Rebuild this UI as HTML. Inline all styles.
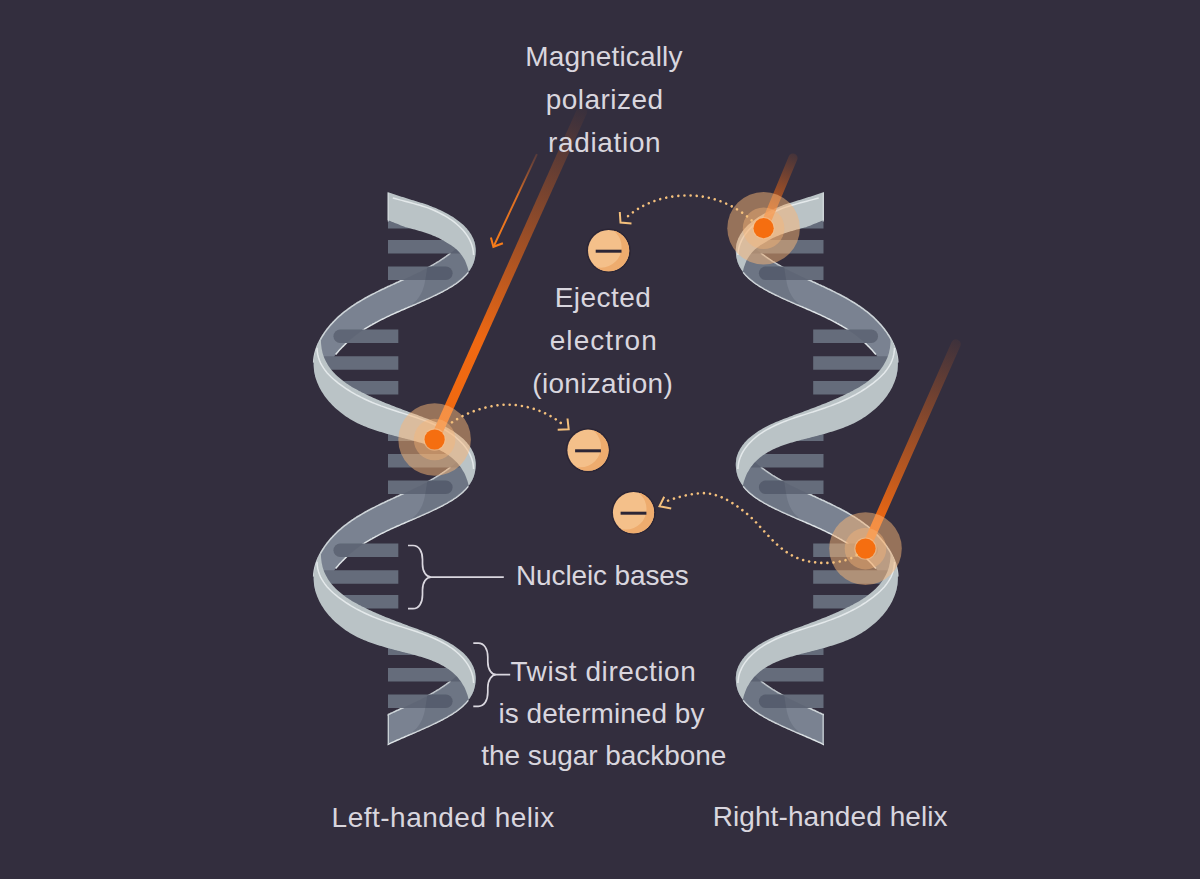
<!DOCTYPE html>
<html><head><meta charset="utf-8"><style>html,body{margin:0;padding:0;background:#332e3e;width:1200px;height:879px;overflow:hidden}svg{display:block}</style></head>
<body><svg width="1200" height="879" viewBox="0 0 1200 879">
<rect width="1200" height="879" fill="#332e3e"/>
<g><defs>
<clipPath id="cutL"><rect x="387.6" y="0" width="200" height="879"/></clipPath>
<clipPath id="kcL"><path d="M472.9,665.8 L473.5,667.2 L474.0,668.7 L474.5,670.1 L474.9,671.6 L475.2,673.1 L475.4,674.7 L475.6,676.2 L475.7,677.7 L475.7,679.3 L475.6,680.8 L475.5,682.3 L475.3,683.8 L475.1,685.3 L474.8,686.8 L474.4,688.3 L474.0,689.7 L473.5,691.2 L472.9,692.6 L472.3,693.9 L471.6,695.2 L470.8,696.5 L470.1,697.8 L469.2,699.0 L468.3,700.3 L467.4,701.4 L466.4,702.6 L465.3,703.7 L464.2,704.8 L463.1,705.9 L462.0,706.9 L460.8,707.9 L459.5,708.9 L458.3,709.9 L457.0,710.9 L455.7,711.8 L454.3,712.7 L453.0,713.6 L451.6,714.5 L450.1,715.4 L448.7,716.2 L447.3,717.1 L445.8,717.9 L444.3,718.7 L442.9,719.5 L441.4,720.2 L439.9,721.0 L438.4,721.7 L436.9,722.5 L435.4,723.2 L433.9,723.9 L432.4,724.7 L430.9,725.4 L429.4,726.1 L427.9,726.8 L426.4,727.4 L424.9,728.1 L423.4,728.8 L421.9,729.4 L420.4,730.1 L418.9,730.8 L417.4,731.4 L415.9,732.1 L414.4,732.7 L413.0,733.3 L411.5,734.0 L410.0,734.6 L408.5,735.3 L407.1,735.9 L405.6,736.5 L404.1,737.2 L402.7,737.8 L401.2,738.4 L399.8,739.1 L398.3,739.7 L396.9,740.3 L395.4,741.0 L394.0,741.6 L392.6,742.3 L391.1,742.9 L389.7,743.6 L388.3,744.3 L386.9,744.9 L385.5,745.6 L384.1,746.3 L382.7,747.0 L381.3,747.7 L379.9,748.4 L378.5,749.1 L377.2,749.8 L375.8,750.5 L374.5,751.3 L373.1,752.0 L371.8,752.8 L370.4,753.5 L369.1,754.3 L367.8,755.1 L366.5,755.9 L365.2,756.7 L363.9,757.6 L362.6,758.4 L361.3,759.3 L360.0,760.1 L358.8,761.0 L357.5,761.9 L356.3,762.8 L355.0,763.8 L353.8,764.7 L352.6,765.7 L351.4,766.7 L350.2,767.7 L349.0,768.7 L347.8,769.8 L346.7,770.8 L345.5,771.9 L344.4,773.0 L343.3,774.1 L342.1,775.3 L341.0,776.4 L339.9,777.6 L338.8,778.8 L337.8,780.1 L336.7,781.3 L335.6,782.6 L334.6,783.9 L333.6,785.2 L332.6,786.6 L331.6,788.0 L330.6,789.4 L329.6,790.8 L328.6,792.3 L327.7,793.8 L326.8,795.3 L325.8,796.9 L315.5,805.4 L315.1,804.0 L314.8,802.5 L314.5,801.0 L314.2,799.6 L314.0,798.1 L313.9,796.6 L313.8,795.1 L313.7,793.6 L313.7,792.1 L313.7,790.6 L313.8,789.1 L313.9,787.6 L314.1,786.1 L314.3,784.6 L314.6,783.2 L314.9,781.7 L315.3,780.2 L315.7,778.8 L316.1,777.3 L316.6,775.9 L317.1,774.5 L317.7,773.1 L318.3,771.6 L319.0,770.3 L319.7,768.9 L320.4,767.5 L321.1,766.2 L321.9,764.8 L322.7,763.5 L323.6,762.2 L324.4,760.9 L325.3,759.6 L326.2,758.4 L327.2,757.1 L328.1,755.9 L329.1,754.7 L330.1,753.5 L331.1,752.4 L332.2,751.2 L333.2,750.1 L334.3,749.0 L335.4,747.9 L336.5,746.8 L337.6,745.7 L338.7,744.7 L339.9,743.7 L341.1,742.7 L342.2,741.7 L343.4,740.7 L344.6,739.7 L345.8,738.8 L347.1,737.8 L348.3,736.9 L349.6,736.0 L350.8,735.1 L352.1,734.2 L353.4,733.4 L354.7,732.5 L356.0,731.7 L357.3,730.8 L358.7,730.0 L360.0,729.2 L361.4,728.4 L362.7,727.6 L364.1,726.8 L365.4,726.0 L366.8,725.3 L368.2,724.5 L369.6,723.8 L371.0,723.0 L372.4,722.3 L373.8,721.6 L375.2,720.9 L376.6,720.1 L378.1,719.4 L379.5,718.7 L380.9,718.0 L382.4,717.3 L383.8,716.7 L385.2,716.0 L386.7,715.3 L388.1,714.6 L389.6,714.0 L391.0,713.3 L392.5,712.6 L393.9,711.9 L395.4,711.3 L396.8,710.6 L398.3,710.0 L399.7,709.3 L401.2,708.6 L402.6,708.0 L404.1,707.3 L405.5,706.7 L407.0,706.0 L408.4,705.3 L409.8,704.7 L411.3,704.0 L412.7,703.3 L414.1,702.6 L415.5,702.0 L416.9,701.3 L418.4,700.6 L419.8,699.9 L421.2,699.2 L422.5,698.5 L423.9,697.8 L425.3,697.1 L426.7,696.4 L428.0,695.6 L429.4,694.9 L430.7,694.2 L432.0,693.4 L433.4,692.7 L434.7,691.9 L436.0,691.1 L437.3,690.3 L438.6,689.6 L439.8,688.8 L441.1,687.9 L442.3,687.1 L443.6,686.3 L444.8,685.4 L446.0,684.6 L447.2,683.7 L448.4,682.8 L449.6,681.9 L450.7,681.0 L451.8,680.1 L453.0,679.2 L454.1,678.2 L455.2,677.3 Z" transform="translate(0,-428)"/><path d="M472.9,665.8 L473.5,667.2 L474.0,668.7 L474.5,670.1 L474.9,671.6 L475.2,673.1 L475.4,674.7 L475.6,676.2 L475.7,677.7 L475.7,679.3 L475.6,680.8 L475.5,682.3 L475.3,683.8 L475.1,685.3 L474.8,686.8 L474.4,688.3 L474.0,689.7 L473.5,691.2 L472.9,692.6 L472.3,693.9 L471.6,695.2 L470.8,696.5 L470.1,697.8 L469.2,699.0 L468.3,700.3 L467.4,701.4 L466.4,702.6 L465.3,703.7 L464.2,704.8 L463.1,705.9 L462.0,706.9 L460.8,707.9 L459.5,708.9 L458.3,709.9 L457.0,710.9 L455.7,711.8 L454.3,712.7 L453.0,713.6 L451.6,714.5 L450.1,715.4 L448.7,716.2 L447.3,717.1 L445.8,717.9 L444.3,718.7 L442.9,719.5 L441.4,720.2 L439.9,721.0 L438.4,721.7 L436.9,722.5 L435.4,723.2 L433.9,723.9 L432.4,724.7 L430.9,725.4 L429.4,726.1 L427.9,726.8 L426.4,727.4 L424.9,728.1 L423.4,728.8 L421.9,729.4 L420.4,730.1 L418.9,730.8 L417.4,731.4 L415.9,732.1 L414.4,732.7 L413.0,733.3 L411.5,734.0 L410.0,734.6 L408.5,735.3 L407.1,735.9 L405.6,736.5 L404.1,737.2 L402.7,737.8 L401.2,738.4 L399.8,739.1 L398.3,739.7 L396.9,740.3 L395.4,741.0 L394.0,741.6 L392.6,742.3 L391.1,742.9 L389.7,743.6 L388.3,744.3 L386.9,744.9 L385.5,745.6 L384.1,746.3 L382.7,747.0 L381.3,747.7 L379.9,748.4 L378.5,749.1 L377.2,749.8 L375.8,750.5 L374.5,751.3 L373.1,752.0 L371.8,752.8 L370.4,753.5 L369.1,754.3 L367.8,755.1 L366.5,755.9 L365.2,756.7 L363.9,757.6 L362.6,758.4 L361.3,759.3 L360.0,760.1 L358.8,761.0 L357.5,761.9 L356.3,762.8 L355.0,763.8 L353.8,764.7 L352.6,765.7 L351.4,766.7 L350.2,767.7 L349.0,768.7 L347.8,769.8 L346.7,770.8 L345.5,771.9 L344.4,773.0 L343.3,774.1 L342.1,775.3 L341.0,776.4 L339.9,777.6 L338.8,778.8 L337.8,780.1 L336.7,781.3 L335.6,782.6 L334.6,783.9 L333.6,785.2 L332.6,786.6 L331.6,788.0 L330.6,789.4 L329.6,790.8 L328.6,792.3 L327.7,793.8 L326.8,795.3 L325.8,796.9 L315.5,805.4 L315.1,804.0 L314.8,802.5 L314.5,801.0 L314.2,799.6 L314.0,798.1 L313.9,796.6 L313.8,795.1 L313.7,793.6 L313.7,792.1 L313.7,790.6 L313.8,789.1 L313.9,787.6 L314.1,786.1 L314.3,784.6 L314.6,783.2 L314.9,781.7 L315.3,780.2 L315.7,778.8 L316.1,777.3 L316.6,775.9 L317.1,774.5 L317.7,773.1 L318.3,771.6 L319.0,770.3 L319.7,768.9 L320.4,767.5 L321.1,766.2 L321.9,764.8 L322.7,763.5 L323.6,762.2 L324.4,760.9 L325.3,759.6 L326.2,758.4 L327.2,757.1 L328.1,755.9 L329.1,754.7 L330.1,753.5 L331.1,752.4 L332.2,751.2 L333.2,750.1 L334.3,749.0 L335.4,747.9 L336.5,746.8 L337.6,745.7 L338.7,744.7 L339.9,743.7 L341.1,742.7 L342.2,741.7 L343.4,740.7 L344.6,739.7 L345.8,738.8 L347.1,737.8 L348.3,736.9 L349.6,736.0 L350.8,735.1 L352.1,734.2 L353.4,733.4 L354.7,732.5 L356.0,731.7 L357.3,730.8 L358.7,730.0 L360.0,729.2 L361.4,728.4 L362.7,727.6 L364.1,726.8 L365.4,726.0 L366.8,725.3 L368.2,724.5 L369.6,723.8 L371.0,723.0 L372.4,722.3 L373.8,721.6 L375.2,720.9 L376.6,720.1 L378.1,719.4 L379.5,718.7 L380.9,718.0 L382.4,717.3 L383.8,716.7 L385.2,716.0 L386.7,715.3 L388.1,714.6 L389.6,714.0 L391.0,713.3 L392.5,712.6 L393.9,711.9 L395.4,711.3 L396.8,710.6 L398.3,710.0 L399.7,709.3 L401.2,708.6 L402.6,708.0 L404.1,707.3 L405.5,706.7 L407.0,706.0 L408.4,705.3 L409.8,704.7 L411.3,704.0 L412.7,703.3 L414.1,702.6 L415.5,702.0 L416.9,701.3 L418.4,700.6 L419.8,699.9 L421.2,699.2 L422.5,698.5 L423.9,697.8 L425.3,697.1 L426.7,696.4 L428.0,695.6 L429.4,694.9 L430.7,694.2 L432.0,693.4 L433.4,692.7 L434.7,691.9 L436.0,691.1 L437.3,690.3 L438.6,689.6 L439.8,688.8 L441.1,687.9 L442.3,687.1 L443.6,686.3 L444.8,685.4 L446.0,684.6 L447.2,683.7 L448.4,682.8 L449.6,681.9 L450.7,681.0 L451.8,680.1 L453.0,679.2 L454.1,678.2 L455.2,677.3 Z" transform="translate(0,-214)"/><path d="M472.9,665.8 L473.5,667.2 L474.0,668.7 L474.5,670.1 L474.9,671.6 L475.2,673.1 L475.4,674.7 L475.6,676.2 L475.7,677.7 L475.7,679.3 L475.6,680.8 L475.5,682.3 L475.3,683.8 L475.1,685.3 L474.8,686.8 L474.4,688.3 L474.0,689.7 L473.5,691.2 L472.9,692.6 L472.3,693.9 L471.6,695.2 L470.8,696.5 L470.1,697.8 L469.2,699.0 L468.3,700.3 L467.4,701.4 L466.4,702.6 L465.3,703.7 L464.2,704.8 L463.1,705.9 L462.0,706.9 L460.8,707.9 L459.5,708.9 L458.3,709.9 L457.0,710.9 L455.7,711.8 L454.3,712.7 L453.0,713.6 L451.6,714.5 L450.1,715.4 L448.7,716.2 L447.3,717.1 L445.8,717.9 L444.3,718.7 L442.9,719.5 L441.4,720.2 L439.9,721.0 L438.4,721.7 L436.9,722.5 L435.4,723.2 L433.9,723.9 L432.4,724.7 L430.9,725.4 L429.4,726.1 L427.9,726.8 L426.4,727.4 L424.9,728.1 L423.4,728.8 L421.9,729.4 L420.4,730.1 L418.9,730.8 L417.4,731.4 L415.9,732.1 L414.4,732.7 L413.0,733.3 L411.5,734.0 L410.0,734.6 L408.5,735.3 L407.1,735.9 L405.6,736.5 L404.1,737.2 L402.7,737.8 L401.2,738.4 L399.8,739.1 L398.3,739.7 L396.9,740.3 L395.4,741.0 L394.0,741.6 L392.6,742.3 L391.1,742.9 L389.7,743.6 L388.3,744.3 L386.9,744.9 L385.5,745.6 L384.1,746.3 L382.7,747.0 L381.3,747.7 L379.9,748.4 L378.5,749.1 L377.2,749.8 L375.8,750.5 L374.5,751.3 L373.1,752.0 L371.8,752.8 L370.4,753.5 L369.1,754.3 L367.8,755.1 L366.5,755.9 L365.2,756.7 L363.9,757.6 L362.6,758.4 L361.3,759.3 L360.0,760.1 L358.8,761.0 L357.5,761.9 L356.3,762.8 L355.0,763.8 L353.8,764.7 L352.6,765.7 L351.4,766.7 L350.2,767.7 L349.0,768.7 L347.8,769.8 L346.7,770.8 L345.5,771.9 L344.4,773.0 L343.3,774.1 L342.1,775.3 L341.0,776.4 L339.9,777.6 L338.8,778.8 L337.8,780.1 L336.7,781.3 L335.6,782.6 L334.6,783.9 L333.6,785.2 L332.6,786.6 L331.6,788.0 L330.6,789.4 L329.6,790.8 L328.6,792.3 L327.7,793.8 L326.8,795.3 L325.8,796.9 L315.5,805.4 L315.1,804.0 L314.8,802.5 L314.5,801.0 L314.2,799.6 L314.0,798.1 L313.9,796.6 L313.8,795.1 L313.7,793.6 L313.7,792.1 L313.7,790.6 L313.8,789.1 L313.9,787.6 L314.1,786.1 L314.3,784.6 L314.6,783.2 L314.9,781.7 L315.3,780.2 L315.7,778.8 L316.1,777.3 L316.6,775.9 L317.1,774.5 L317.7,773.1 L318.3,771.6 L319.0,770.3 L319.7,768.9 L320.4,767.5 L321.1,766.2 L321.9,764.8 L322.7,763.5 L323.6,762.2 L324.4,760.9 L325.3,759.6 L326.2,758.4 L327.2,757.1 L328.1,755.9 L329.1,754.7 L330.1,753.5 L331.1,752.4 L332.2,751.2 L333.2,750.1 L334.3,749.0 L335.4,747.9 L336.5,746.8 L337.6,745.7 L338.7,744.7 L339.9,743.7 L341.1,742.7 L342.2,741.7 L343.4,740.7 L344.6,739.7 L345.8,738.8 L347.1,737.8 L348.3,736.9 L349.6,736.0 L350.8,735.1 L352.1,734.2 L353.4,733.4 L354.7,732.5 L356.0,731.7 L357.3,730.8 L358.7,730.0 L360.0,729.2 L361.4,728.4 L362.7,727.6 L364.1,726.8 L365.4,726.0 L366.8,725.3 L368.2,724.5 L369.6,723.8 L371.0,723.0 L372.4,722.3 L373.8,721.6 L375.2,720.9 L376.6,720.1 L378.1,719.4 L379.5,718.7 L380.9,718.0 L382.4,717.3 L383.8,716.7 L385.2,716.0 L386.7,715.3 L388.1,714.6 L389.6,714.0 L391.0,713.3 L392.5,712.6 L393.9,711.9 L395.4,711.3 L396.8,710.6 L398.3,710.0 L399.7,709.3 L401.2,708.6 L402.6,708.0 L404.1,707.3 L405.5,706.7 L407.0,706.0 L408.4,705.3 L409.8,704.7 L411.3,704.0 L412.7,703.3 L414.1,702.6 L415.5,702.0 L416.9,701.3 L418.4,700.6 L419.8,699.9 L421.2,699.2 L422.5,698.5 L423.9,697.8 L425.3,697.1 L426.7,696.4 L428.0,695.6 L429.4,694.9 L430.7,694.2 L432.0,693.4 L433.4,692.7 L434.7,691.9 L436.0,691.1 L437.3,690.3 L438.6,689.6 L439.8,688.8 L441.1,687.9 L442.3,687.1 L443.6,686.3 L444.8,685.4 L446.0,684.6 L447.2,683.7 L448.4,682.8 L449.6,681.9 L450.7,681.0 L451.8,680.1 L453.0,679.2 L454.1,678.2 L455.2,677.3 Z"/></clipPath>
<path id="KL" d="M472.9,665.8 L473.5,667.2 L474.0,668.7 L474.5,670.1 L474.9,671.6 L475.2,673.1 L475.4,674.7 L475.6,676.2 L475.7,677.7 L475.7,679.3 L475.6,680.8 L475.5,682.3 L475.3,683.8 L475.1,685.3 L474.8,686.8 L474.4,688.3 L474.0,689.7 L473.5,691.2 L472.9,692.6 L472.3,693.9 L471.6,695.2 L470.8,696.5 L470.1,697.8 L469.2,699.0 L468.3,700.3 L467.4,701.4 L466.4,702.6 L465.3,703.7 L464.2,704.8 L463.1,705.9 L462.0,706.9 L460.8,707.9 L459.5,708.9 L458.3,709.9 L457.0,710.9 L455.7,711.8 L454.3,712.7 L453.0,713.6 L451.6,714.5 L450.1,715.4 L448.7,716.2 L447.3,717.1 L445.8,717.9 L444.3,718.7 L442.9,719.5 L441.4,720.2 L439.9,721.0 L438.4,721.7 L436.9,722.5 L435.4,723.2 L433.9,723.9 L432.4,724.7 L430.9,725.4 L429.4,726.1 L427.9,726.8 L426.4,727.4 L424.9,728.1 L423.4,728.8 L421.9,729.4 L420.4,730.1 L418.9,730.8 L417.4,731.4 L415.9,732.1 L414.4,732.7 L413.0,733.3 L411.5,734.0 L410.0,734.6 L408.5,735.3 L407.1,735.9 L405.6,736.5 L404.1,737.2 L402.7,737.8 L401.2,738.4 L399.8,739.1 L398.3,739.7 L396.9,740.3 L395.4,741.0 L394.0,741.6 L392.6,742.3 L391.1,742.9 L389.7,743.6 L388.3,744.3 L386.9,744.9 L385.5,745.6 L384.1,746.3 L382.7,747.0 L381.3,747.7 L379.9,748.4 L378.5,749.1 L377.2,749.8 L375.8,750.5 L374.5,751.3 L373.1,752.0 L371.8,752.8 L370.4,753.5 L369.1,754.3 L367.8,755.1 L366.5,755.9 L365.2,756.7 L363.9,757.6 L362.6,758.4 L361.3,759.3 L360.0,760.1 L358.8,761.0 L357.5,761.9 L356.3,762.8 L355.0,763.8 L353.8,764.7 L352.6,765.7 L351.4,766.7 L350.2,767.7 L349.0,768.7 L347.8,769.8 L346.7,770.8 L345.5,771.9 L344.4,773.0 L343.3,774.1 L342.1,775.3 L341.0,776.4 L339.9,777.6 L338.8,778.8 L337.8,780.1 L336.7,781.3 L335.6,782.6 L334.6,783.9 L333.6,785.2 L332.6,786.6 L331.6,788.0 L330.6,789.4 L329.6,790.8 L328.6,792.3 L327.7,793.8 L326.8,795.3 L325.8,796.9 L315.5,805.4 L315.1,804.0 L314.8,802.5 L314.5,801.0 L314.2,799.6 L314.0,798.1 L313.9,796.6 L313.8,795.1 L313.7,793.6 L313.7,792.1 L313.7,790.6 L313.8,789.1 L313.9,787.6 L314.1,786.1 L314.3,784.6 L314.6,783.2 L314.9,781.7 L315.3,780.2 L315.7,778.8 L316.1,777.3 L316.6,775.9 L317.1,774.5 L317.7,773.1 L318.3,771.6 L319.0,770.3 L319.7,768.9 L320.4,767.5 L321.1,766.2 L321.9,764.8 L322.7,763.5 L323.6,762.2 L324.4,760.9 L325.3,759.6 L326.2,758.4 L327.2,757.1 L328.1,755.9 L329.1,754.7 L330.1,753.5 L331.1,752.4 L332.2,751.2 L333.2,750.1 L334.3,749.0 L335.4,747.9 L336.5,746.8 L337.6,745.7 L338.7,744.7 L339.9,743.7 L341.1,742.7 L342.2,741.7 L343.4,740.7 L344.6,739.7 L345.8,738.8 L347.1,737.8 L348.3,736.9 L349.6,736.0 L350.8,735.1 L352.1,734.2 L353.4,733.4 L354.7,732.5 L356.0,731.7 L357.3,730.8 L358.7,730.0 L360.0,729.2 L361.4,728.4 L362.7,727.6 L364.1,726.8 L365.4,726.0 L366.8,725.3 L368.2,724.5 L369.6,723.8 L371.0,723.0 L372.4,722.3 L373.8,721.6 L375.2,720.9 L376.6,720.1 L378.1,719.4 L379.5,718.7 L380.9,718.0 L382.4,717.3 L383.8,716.7 L385.2,716.0 L386.7,715.3 L388.1,714.6 L389.6,714.0 L391.0,713.3 L392.5,712.6 L393.9,711.9 L395.4,711.3 L396.8,710.6 L398.3,710.0 L399.7,709.3 L401.2,708.6 L402.6,708.0 L404.1,707.3 L405.5,706.7 L407.0,706.0 L408.4,705.3 L409.8,704.7 L411.3,704.0 L412.7,703.3 L414.1,702.6 L415.5,702.0 L416.9,701.3 L418.4,700.6 L419.8,699.9 L421.2,699.2 L422.5,698.5 L423.9,697.8 L425.3,697.1 L426.7,696.4 L428.0,695.6 L429.4,694.9 L430.7,694.2 L432.0,693.4 L433.4,692.7 L434.7,691.9 L436.0,691.1 L437.3,690.3 L438.6,689.6 L439.8,688.8 L441.1,687.9 L442.3,687.1 L443.6,686.3 L444.8,685.4 L446.0,684.6 L447.2,683.7 L448.4,682.8 L449.6,681.9 L450.7,681.0 L451.8,680.1 L453.0,679.2 L454.1,678.2 L455.2,677.3 Z"/>
<path id="FL" d="M321.1,550.9 L321.0,552.7 L321.0,554.5 L321.0,556.3 L321.1,558.0 L321.3,559.7 L321.5,561.4 L321.7,563.0 L322.1,564.6 L322.4,566.2 L322.8,567.7 L323.3,569.2 L323.8,570.7 L324.4,572.2 L325.0,573.6 L325.7,575.0 L326.4,576.3 L327.1,577.6 L327.9,578.9 L328.7,580.2 L329.6,581.5 L330.5,582.7 L331.5,583.9 L332.4,585.1 L333.5,586.2 L334.5,587.3 L335.6,588.4 L336.7,589.5 L337.8,590.6 L339.0,591.6 L340.2,592.6 L341.4,593.6 L342.7,594.6 L343.9,595.5 L345.2,596.5 L346.5,597.4 L347.9,598.3 L349.2,599.2 L350.6,600.0 L351.9,600.9 L353.3,601.7 L354.7,602.5 L356.2,603.3 L357.6,604.1 L359.0,604.9 L360.5,605.6 L361.9,606.4 L363.4,607.1 L364.9,607.8 L366.3,608.5 L367.8,609.2 L369.3,609.9 L370.7,610.6 L372.2,611.3 L373.7,611.9 L375.1,612.6 L376.6,613.2 L378.0,613.8 L379.5,614.5 L381.0,615.1 L382.4,615.7 L383.9,616.3 L385.3,616.9 L386.8,617.5 L388.3,618.1 L389.7,618.6 L391.2,619.2 L392.6,619.8 L394.1,620.3 L395.6,620.9 L397.0,621.5 L398.5,622.0 L400.0,622.6 L401.4,623.1 L402.9,623.7 L404.4,624.2 L405.8,624.8 L407.3,625.3 L408.8,625.9 L410.3,626.4 L411.7,626.9 L413.2,627.5 L414.7,628.0 L416.2,628.6 L417.7,629.1 L419.2,629.7 L420.7,630.2 L422.2,630.8 L423.7,631.4 L425.2,631.9 L426.7,632.5 L428.2,633.1 L429.7,633.7 L431.2,634.3 L432.7,634.9 L434.2,635.5 L435.7,636.1 L437.2,636.8 L438.7,637.4 L440.1,638.1 L441.6,638.8 L443.1,639.5 L444.5,640.2 L446.0,641.0 L447.4,641.8 L448.8,642.6 L450.3,643.4 L451.7,644.2 L453.1,645.1 L454.4,646.0 L455.8,646.9 L457.1,647.9 L458.5,648.9 L459.8,649.9 L461.0,651.0 L462.3,652.0 L463.5,653.1 L464.7,654.3 L465.8,655.4 L466.9,656.6 L467.9,657.9 L468.9,659.1 L469.8,660.4 L470.7,661.7 L471.5,663.0 L472.2,664.4 L472.9,665.8 L473.5,667.2 L474.0,668.7 L474.5,670.1 L474.9,671.6 L475.2,673.1 L475.4,674.7 L475.6,676.2 L475.7,677.7 L475.7,679.3 L475.6,680.8 L475.5,682.3 L475.3,683.8 L475.1,685.3 L474.8,686.8 L474.4,688.3 L474.0,689.7 L473.5,691.2 L472.9,692.6 L472.3,693.9 L471.6,695.2 L470.8,696.5 L470.1,697.8 L469.2,699.0 L468.3,700.3 L468.7,700.0 L468.3,698.2 L467.9,696.5 L467.4,694.8 L466.8,693.2 L466.2,691.6 L465.6,690.1 L465.0,688.6 L464.3,687.1 L463.5,685.7 L462.7,684.4 L461.9,683.1 L461.1,681.8 L460.2,680.6 L459.3,679.4 L458.4,678.2 L457.4,677.1 L456.4,676.0 L455.3,674.9 L454.3,673.9 L453.2,672.9 L452.1,672.0 L450.9,671.1 L449.8,670.2 L448.6,669.3 L447.3,668.5 L446.1,667.7 L444.8,666.9 L443.5,666.1 L442.2,665.4 L440.9,664.7 L439.6,664.0 L438.2,663.3 L436.8,662.7 L435.4,662.1 L434.0,661.5 L432.6,660.9 L431.2,660.3 L429.7,659.8 L428.3,659.3 L426.8,658.8 L425.3,658.3 L423.8,657.8 L422.3,657.3 L420.8,656.8 L419.3,656.4 L417.8,655.9 L416.2,655.5 L414.7,655.1 L413.2,654.7 L411.6,654.3 L410.1,653.8 L408.6,653.4 L407.0,653.0 L405.5,652.7 L404.0,652.3 L402.4,651.9 L400.9,651.5 L399.4,651.1 L397.8,650.7 L396.3,650.3 L394.8,649.9 L393.3,649.5 L391.7,649.1 L390.2,648.7 L388.7,648.3 L387.2,647.9 L385.7,647.5 L384.2,647.0 L382.7,646.6 L381.2,646.1 L379.7,645.7 L378.2,645.2 L376.7,644.8 L375.2,644.3 L373.8,643.8 L372.3,643.3 L370.8,642.8 L369.4,642.2 L367.9,641.7 L366.5,641.1 L365.1,640.5 L363.6,639.9 L362.2,639.3 L360.8,638.7 L359.4,638.0 L358.0,637.4 L356.6,636.7 L355.2,636.0 L353.9,635.3 L352.5,634.5 L351.2,633.7 L349.8,632.9 L348.5,632.1 L347.2,631.3 L345.9,630.4 L344.6,629.5 L343.3,628.6 L342.0,627.6 L340.7,626.6 L339.5,625.6 L338.3,624.6 L337.0,623.6 L335.8,622.5 L334.7,621.4 L333.5,620.3 L332.4,619.2 L331.3,618.0 L330.2,616.8 L329.1,615.7 L328.1,614.4 L327.1,613.2 L326.1,612.0 L325.1,610.7 L324.2,609.4 L323.3,608.1 L322.5,606.8 L321.6,605.5 L320.8,604.1 L320.1,602.8 L319.4,601.4 L318.7,600.0 L318.1,598.6 L317.5,597.2 L316.9,595.8 L316.4,594.3 L315.9,592.9 L315.5,591.4 L315.1,590.0 L314.8,588.5 L314.5,587.0 L314.2,585.6 L314.0,584.1 L313.9,582.6 L313.8,581.1 L313.7,579.6 L313.7,578.1 L313.7,576.6 L313.8,575.1 L313.9,573.6 L314.1,572.1 L314.3,570.6 L314.6,569.2 L314.9,567.7 L315.3,566.2 L315.7,564.8 L316.1,563.3 L316.6,561.9 L317.1,560.5 L317.7,559.1 L318.3,557.6 L319.0,556.3 L319.7,554.9 L320.4,553.5 L321.1,552.2 Z"/>
</defs>
<use href="#KL" y="-428" fill="#7a8291"/>
<use href="#KL" y="-214" fill="#7a8291"/>
<g clip-path="url(#cutL)"><use href="#KL" fill="#7a8291"/></g>
<path d="M450.7,467.0 L449.6,467.9 L448.4,468.8 L447.2,469.7 L446.0,470.6 L444.8,471.4 L443.6,472.3 L442.3,473.1 L441.1,473.9 L439.8,474.8 L438.6,475.6 L437.3,476.3 L436.0,477.1 L434.7,477.9 L433.4,478.7 L432.0,479.4 L430.7,480.2 L429.4,480.9 L428.0,481.6 L426.7,482.4 L425.3,483.1 L423.9,483.8 L422.5,484.5 L421.2,485.2 L419.8,485.9 L418.4,486.6 L416.9,487.3 L415.5,488.0 L414.1,488.6 L412.7,489.3 L411.3,490.0 L409.8,490.7 L408.4,491.3 L407.0,492.0 L405.5,492.7 L404.1,493.3 L402.6,494.0 L401.2,494.6 L399.7,495.3 L398.3,496.0 L396.8,496.6 L395.4,497.3 L393.9,497.9 L392.5,498.6 L391.0,499.3 L389.6,500.0 L388.1,500.6 L386.7,501.3 L385.2,502.0 L383.8,502.7 L382.4,503.3 L380.9,504.0 L379.5,504.7 L378.1,505.4 L376.6,506.1 L375.2,506.9 L373.8,507.6 L372.4,508.3 L371.0,509.0 L369.6,509.8 L368.2,510.5 L366.8,511.3 L365.4,512.0 L364.1,512.8 L362.7,513.6 L361.4,514.4 L360.0,515.2 L358.7,516.0 L357.3,516.8 L356.0,517.7 L354.7,518.5 L353.4,519.4 L352.1,520.2 L350.8,521.1 L349.6,522.0 L348.3,522.9 L347.1,523.8 L345.8,524.8 L344.6,525.7 L343.4,526.7 L342.2,527.7 L341.1,528.7 L339.9,529.7 L338.7,530.7 L337.6,531.7 L336.5,532.8 L335.4,533.9 L334.3,535.0 L333.2,536.1 L332.2,537.2 L331.1,538.4 L330.1,539.5 L329.1,540.7 L328.1,541.9 L327.2,543.1 L326.2,544.4 L325.3,545.6 L324.4,546.9 L323.6,548.2 L322.7,549.5 L321.9,550.8 L321.1,552.2 L320.4,553.5 L319.7,554.9 L319.0,556.3 L318.3,557.6 L317.7,559.1 L317.1,560.5 L316.6,561.9 L316.1,563.3 L315.7,564.8 L315.3,566.2 L314.9,567.7 L314.6,569.2 L314.3,570.6 L314.1,572.1 L313.9,573.6 L313.8,575.1 L313.7,576.6" transform="translate(0,-214)" fill="none" stroke="#cdd4d8" stroke-width="1.6"/>
<path d="M450.7,467.0 L449.6,467.9 L448.4,468.8 L447.2,469.7 L446.0,470.6 L444.8,471.4 L443.6,472.3 L442.3,473.1 L441.1,473.9 L439.8,474.8 L438.6,475.6 L437.3,476.3 L436.0,477.1 L434.7,477.9 L433.4,478.7 L432.0,479.4 L430.7,480.2 L429.4,480.9 L428.0,481.6 L426.7,482.4 L425.3,483.1 L423.9,483.8 L422.5,484.5 L421.2,485.2 L419.8,485.9 L418.4,486.6 L416.9,487.3 L415.5,488.0 L414.1,488.6 L412.7,489.3 L411.3,490.0 L409.8,490.7 L408.4,491.3 L407.0,492.0 L405.5,492.7 L404.1,493.3 L402.6,494.0 L401.2,494.6 L399.7,495.3 L398.3,496.0 L396.8,496.6 L395.4,497.3 L393.9,497.9 L392.5,498.6 L391.0,499.3 L389.6,500.0 L388.1,500.6 L386.7,501.3 L385.2,502.0 L383.8,502.7 L382.4,503.3 L380.9,504.0 L379.5,504.7 L378.1,505.4 L376.6,506.1 L375.2,506.9 L373.8,507.6 L372.4,508.3 L371.0,509.0 L369.6,509.8 L368.2,510.5 L366.8,511.3 L365.4,512.0 L364.1,512.8 L362.7,513.6 L361.4,514.4 L360.0,515.2 L358.7,516.0 L357.3,516.8 L356.0,517.7 L354.7,518.5 L353.4,519.4 L352.1,520.2 L350.8,521.1 L349.6,522.0 L348.3,522.9 L347.1,523.8 L345.8,524.8 L344.6,525.7 L343.4,526.7 L342.2,527.7 L341.1,528.7 L339.9,529.7 L338.7,530.7 L337.6,531.7 L336.5,532.8 L335.4,533.9 L334.3,535.0 L333.2,536.1 L332.2,537.2 L331.1,538.4 L330.1,539.5 L329.1,540.7 L328.1,541.9 L327.2,543.1 L326.2,544.4 L325.3,545.6 L324.4,546.9 L323.6,548.2 L322.7,549.5 L321.9,550.8 L321.1,552.2 L320.4,553.5 L319.7,554.9 L319.0,556.3 L318.3,557.6 L317.7,559.1 L317.1,560.5 L316.6,561.9 L316.1,563.3 L315.7,564.8 L315.3,566.2 L314.9,567.7 L314.6,569.2 L314.3,570.6 L314.1,572.1 L313.9,573.6 L313.8,575.1 L313.7,576.6" transform="translate(0,0)" fill="none" stroke="#cdd4d8" stroke-width="1.6"/>
<path d="M468.3,700.3 L467.4,701.4 L466.4,702.6 L465.3,703.7 L464.2,704.8 L463.1,705.9 L462.0,706.9 L460.8,707.9 L459.5,708.9 L458.3,709.9 L457.0,710.9 L455.7,711.8 L454.3,712.7 L453.0,713.6 L451.6,714.5 L450.1,715.4 L448.7,716.2 L447.3,717.1 L445.8,717.9 L444.3,718.7 L442.9,719.5 L441.4,720.2 L439.9,721.0 L438.4,721.7 L436.9,722.5 L435.4,723.2 L433.9,723.9 L432.4,724.7 L430.9,725.4 L429.4,726.1 L427.9,726.8 L426.4,727.4 L424.9,728.1 L423.4,728.8 L421.9,729.4 L420.4,730.1 L418.9,730.8 L417.4,731.4 L415.9,732.1 L414.4,732.7 L413.0,733.3 L411.5,734.0 L410.0,734.6 L408.5,735.3 L407.1,735.9 L405.6,736.5 L404.1,737.2 L402.7,737.8 L401.2,738.4 L399.8,739.1 L398.3,739.7 L396.9,740.3 L395.4,741.0 L394.0,741.6 L392.6,742.3 L391.1,742.9 L389.7,743.6 L388.3,744.3 L386.9,744.9 L385.5,745.6 L384.1,746.3 L382.7,747.0 L381.3,747.7 L379.9,748.4 L378.5,749.1 L377.2,749.8 L375.8,750.5 L374.5,751.3 L373.1,752.0 L371.8,752.8 L370.4,753.5 L369.1,754.3 L367.8,755.1 L366.5,755.9 L365.2,756.7 L363.9,757.6 L362.6,758.4 L361.3,759.3 L360.0,760.1 L358.8,761.0 L357.5,761.9 L356.3,762.8 L355.0,763.8 L353.8,764.7 L352.6,765.7 L351.4,766.7 L350.2,767.7 L349.0,768.7 L347.8,769.8 L346.7,770.8 L345.5,771.9 L344.4,773.0 L343.3,774.1 L342.1,775.3 L341.0,776.4 L339.9,777.6 L338.8,778.8 L337.8,780.1 L336.7,781.3 L335.6,782.6" transform="translate(0,-428)" fill="none" stroke="#dde3e6" stroke-width="1.5"/>
<path d="M468.3,700.3 L467.4,701.4 L466.4,702.6 L465.3,703.7 L464.2,704.8 L463.1,705.9 L462.0,706.9 L460.8,707.9 L459.5,708.9 L458.3,709.9 L457.0,710.9 L455.7,711.8 L454.3,712.7 L453.0,713.6 L451.6,714.5 L450.1,715.4 L448.7,716.2 L447.3,717.1 L445.8,717.9 L444.3,718.7 L442.9,719.5 L441.4,720.2 L439.9,721.0 L438.4,721.7 L436.9,722.5 L435.4,723.2 L433.9,723.9 L432.4,724.7 L430.9,725.4 L429.4,726.1 L427.9,726.8 L426.4,727.4 L424.9,728.1 L423.4,728.8 L421.9,729.4 L420.4,730.1 L418.9,730.8 L417.4,731.4 L415.9,732.1 L414.4,732.7 L413.0,733.3 L411.5,734.0 L410.0,734.6 L408.5,735.3 L407.1,735.9 L405.6,736.5 L404.1,737.2 L402.7,737.8 L401.2,738.4 L399.8,739.1 L398.3,739.7 L396.9,740.3 L395.4,741.0 L394.0,741.6 L392.6,742.3 L391.1,742.9 L389.7,743.6 L388.3,744.3 L386.9,744.9 L385.5,745.6 L384.1,746.3 L382.7,747.0 L381.3,747.7 L379.9,748.4 L378.5,749.1 L377.2,749.8 L375.8,750.5 L374.5,751.3 L373.1,752.0 L371.8,752.8 L370.4,753.5 L369.1,754.3 L367.8,755.1 L366.5,755.9 L365.2,756.7 L363.9,757.6 L362.6,758.4 L361.3,759.3 L360.0,760.1 L358.8,761.0 L357.5,761.9 L356.3,762.8 L355.0,763.8 L353.8,764.7 L352.6,765.7 L351.4,766.7 L350.2,767.7 L349.0,768.7 L347.8,769.8 L346.7,770.8 L345.5,771.9 L344.4,773.0 L343.3,774.1 L342.1,775.3 L341.0,776.4 L339.9,777.6 L338.8,778.8 L337.8,780.1 L336.7,781.3 L335.6,782.6" transform="translate(0,-214)" fill="none" stroke="#dde3e6" stroke-width="1.5"/>
<g clip-path="url(#cutL)">
<path d="M450.7,467.0 L449.6,467.9 L448.4,468.8 L447.2,469.7 L446.0,470.6 L444.8,471.4 L443.6,472.3 L442.3,473.1 L441.1,473.9 L439.8,474.8 L438.6,475.6 L437.3,476.3 L436.0,477.1 L434.7,477.9 L433.4,478.7 L432.0,479.4 L430.7,480.2 L429.4,480.9 L428.0,481.6 L426.7,482.4 L425.3,483.1 L423.9,483.8 L422.5,484.5 L421.2,485.2 L419.8,485.9 L418.4,486.6 L416.9,487.3 L415.5,488.0 L414.1,488.6 L412.7,489.3 L411.3,490.0 L409.8,490.7 L408.4,491.3 L407.0,492.0 L405.5,492.7 L404.1,493.3 L402.6,494.0 L401.2,494.6 L399.7,495.3 L398.3,496.0 L396.8,496.6 L395.4,497.3 L393.9,497.9 L392.5,498.6 L391.0,499.3 L389.6,500.0 L388.1,500.6 L386.7,501.3 L385.2,502.0 L383.8,502.7 L382.4,503.3 L380.9,504.0 L379.5,504.7 L378.1,505.4 L376.6,506.1 L375.2,506.9 L373.8,507.6 L372.4,508.3 L371.0,509.0 L369.6,509.8 L368.2,510.5 L366.8,511.3 L365.4,512.0 L364.1,512.8 L362.7,513.6 L361.4,514.4 L360.0,515.2 L358.7,516.0 L357.3,516.8 L356.0,517.7 L354.7,518.5 L353.4,519.4 L352.1,520.2 L350.8,521.1 L349.6,522.0 L348.3,522.9 L347.1,523.8 L345.8,524.8 L344.6,525.7 L343.4,526.7 L342.2,527.7 L341.1,528.7 L339.9,529.7 L338.7,530.7 L337.6,531.7 L336.5,532.8 L335.4,533.9 L334.3,535.0 L333.2,536.1 L332.2,537.2 L331.1,538.4 L330.1,539.5 L329.1,540.7 L328.1,541.9 L327.2,543.1 L326.2,544.4 L325.3,545.6 L324.4,546.9 L323.6,548.2 L322.7,549.5 L321.9,550.8 L321.1,552.2 L320.4,553.5 L319.7,554.9 L319.0,556.3 L318.3,557.6 L317.7,559.1 L317.1,560.5 L316.6,561.9 L316.1,563.3 L315.7,564.8 L315.3,566.2 L314.9,567.7 L314.6,569.2 L314.3,570.6 L314.1,572.1 L313.9,573.6 L313.8,575.1 L313.7,576.6" transform="translate(0,214)" fill="none" stroke="#cdd4d8" stroke-width="1.6"/>
<path d="M468.3,700.3 L467.4,701.4 L466.4,702.6 L465.3,703.7 L464.2,704.8 L463.1,705.9 L462.0,706.9 L460.8,707.9 L459.5,708.9 L458.3,709.9 L457.0,710.9 L455.7,711.8 L454.3,712.7 L453.0,713.6 L451.6,714.5 L450.1,715.4 L448.7,716.2 L447.3,717.1 L445.8,717.9 L444.3,718.7 L442.9,719.5 L441.4,720.2 L439.9,721.0 L438.4,721.7 L436.9,722.5 L435.4,723.2 L433.9,723.9 L432.4,724.7 L430.9,725.4 L429.4,726.1 L427.9,726.8 L426.4,727.4 L424.9,728.1 L423.4,728.8 L421.9,729.4 L420.4,730.1 L418.9,730.8 L417.4,731.4 L415.9,732.1 L414.4,732.7 L413.0,733.3 L411.5,734.0 L410.0,734.6 L408.5,735.3 L407.1,735.9 L405.6,736.5 L404.1,737.2 L402.7,737.8 L401.2,738.4 L399.8,739.1 L398.3,739.7 L396.9,740.3 L395.4,741.0 L394.0,741.6 L392.6,742.3 L391.1,742.9 L389.7,743.6 L388.3,744.3 L386.9,744.9 L385.5,745.6 L384.1,746.3 L382.7,747.0 L381.3,747.7 L379.9,748.4 L378.5,749.1 L377.2,749.8 L375.8,750.5 L374.5,751.3 L373.1,752.0 L371.8,752.8 L370.4,753.5 L369.1,754.3 L367.8,755.1 L366.5,755.9 L365.2,756.7 L363.9,757.6 L362.6,758.4 L361.3,759.3 L360.0,760.1 L358.8,761.0 L357.5,761.9 L356.3,762.8 L355.0,763.8 L353.8,764.7 L352.6,765.7 L351.4,766.7 L350.2,767.7 L349.0,768.7 L347.8,769.8 L346.7,770.8 L345.5,771.9 L344.4,773.0 L343.3,774.1 L342.1,775.3 L341.0,776.4 L339.9,777.6 L338.8,778.8 L337.8,780.1 L336.7,781.3 L335.6,782.6" fill="none" stroke="#dde3e6" stroke-width="1.5"/>
</g>
<path d="M388,215 L413.25,215 A6.75,6.75 0 0 1 413.25,228.5 L388,228.5 Z" fill="#656c7b"/>
<path d="M388,240 L463.25,240 A6.75,6.75 0 0 1 463.25,253.5 L388,253.5 Z" fill="#656c7b"/>
<path d="M388,266.5 L445.85,266.5 A6.75,6.75 0 0 1 445.85,280.0 L388,280.0 Z" fill="#656c7b"/>
<path d="M388,427.5 L413.25,427.5 A6.75,6.75 0 0 1 413.25,441.0 L388,441.0 Z" fill="#656c7b"/>
<path d="M388,454 L463.25,454 A6.75,6.75 0 0 1 463.25,467.5 L388,467.5 Z" fill="#656c7b"/>
<path d="M388,480.5 L445.85,480.5 A6.75,6.75 0 0 1 445.85,494.0 L388,494.0 Z" fill="#656c7b"/>
<path d="M388,641.5 L413.25,641.5 A6.75,6.75 0 0 1 413.25,655.0 L388,655.0 Z" fill="#656c7b"/>
<path d="M388,668 L463.25,668 A6.75,6.75 0 0 1 463.25,681.5 L388,681.5 Z" fill="#656c7b"/>
<path d="M388,694.5 L445.85,694.5 A6.75,6.75 0 0 1 445.85,708.0 L388,708.0 Z" fill="#656c7b"/>
<path d="M398.3,329.6 L340.25,329.6 A6.75,6.75 0 0 0 340.25,343.1 L398.3,343.1 Z" fill="#656c7b"/>
<path d="M398.3,356.2 L324.75,356.2 A6.75,6.75 0 0 0 324.75,369.7 L398.3,369.7 Z" fill="#656c7b"/>
<path d="M398.3,381 L336.75,381 A6.75,6.75 0 0 0 336.75,394.5 L398.3,394.5 Z" fill="#656c7b"/>
<path d="M398.3,543.6 L340.25,543.6 A6.75,6.75 0 0 0 340.25,557.1 L398.3,557.1 Z" fill="#656c7b"/>
<path d="M398.3,570.2 L324.75,570.2 A6.75,6.75 0 0 0 324.75,583.7 L398.3,583.7 Z" fill="#656c7b"/>
<path d="M398.3,595 L336.75,595 A6.75,6.75 0 0 0 336.75,608.5 L398.3,608.5 Z" fill="#656c7b"/>
<g clip-path="url(#kcL)">
<path d="M388,266.5 L445.85,266.5 A6.75,6.75 0 0 1 445.85,280.0 L388,280.0 Z" fill="#3a3f52" fill-opacity="0.12"/>
<path d="M388,480.5 L445.85,480.5 A6.75,6.75 0 0 1 445.85,494.0 L388,494.0 Z" fill="#3a3f52" fill-opacity="0.12"/>
<path d="M388,694.5 L445.85,694.5 A6.75,6.75 0 0 1 445.85,708.0 L388,708.0 Z" fill="#3a3f52" fill-opacity="0.12"/>
<path d="M398.3,329.6 L340.25,329.6 A6.75,6.75 0 0 0 340.25,343.1 L398.3,343.1 Z" fill="#3a3f52" fill-opacity="0.12"/>
<path d="M398.3,543.6 L340.25,543.6 A6.75,6.75 0 0 0 340.25,557.1 L398.3,557.1 Z" fill="#3a3f52" fill-opacity="0.12"/>
<path d="M429.9,684.0 L429.4,685.7 L428.9,687.4 L428.5,689.1 L428.1,690.8 L427.7,692.6 L427.4,694.3 L427.1,696.1 L426.8,697.9 L426.6,699.7 L426.3,701.5 L426.1,703.3 L425.8,705.1 L425.5,706.9 L425.1,708.6 L424.8,710.4 L424.4,712.2 L424.0,713.9 L423.5,715.6 L422.9,717.3 L422.3,718.9 L421.6,720.5 L420.8,722.1 L420.0,723.6 L419.0,725.1 L418.0,726.6 L416.8,728.0 L415.5,729.3 L414.1,730.6 L412.6,731.8 L395,750 L500,760 L500,654 L440,654 Z" transform="translate(0,-428)" fill="#2e3346" fill-opacity="0.16"/>
<path d="M429.9,684.0 L429.4,685.7 L428.9,687.4 L428.5,689.1 L428.1,690.8 L427.7,692.6 L427.4,694.3 L427.1,696.1 L426.8,697.9 L426.6,699.7 L426.3,701.5 L426.1,703.3 L425.8,705.1 L425.5,706.9 L425.1,708.6 L424.8,710.4 L424.4,712.2 L424.0,713.9 L423.5,715.6 L422.9,717.3 L422.3,718.9 L421.6,720.5 L420.8,722.1 L420.0,723.6 L419.0,725.1 L418.0,726.6 L416.8,728.0 L415.5,729.3 L414.1,730.6 L412.6,731.8 L395,750 L500,760 L500,654 L440,654 Z" transform="translate(0,-214)" fill="#2e3346" fill-opacity="0.16"/>
<path d="M429.9,684.0 L429.4,685.7 L428.9,687.4 L428.5,689.1 L428.1,690.8 L427.7,692.6 L427.4,694.3 L427.1,696.1 L426.8,697.9 L426.6,699.7 L426.3,701.5 L426.1,703.3 L425.8,705.1 L425.5,706.9 L425.1,708.6 L424.8,710.4 L424.4,712.2 L424.0,713.9 L423.5,715.6 L422.9,717.3 L422.3,718.9 L421.6,720.5 L420.8,722.1 L420.0,723.6 L419.0,725.1 L418.0,726.6 L416.8,728.0 L415.5,729.3 L414.1,730.6 L412.6,731.8 L395,750 L500,760 L500,654 L440,654 Z" transform="translate(0,0)" fill="#2e3346" fill-opacity="0.16"/>
</g>
<line x1="388.4" y1="714.5" x2="388.4" y2="743.8" stroke="#c9d0d4" stroke-width="1.2"/>
<g clip-path="url(#cutL)"><path d="M321.1,129.0 L321.0,130.9 L321.0,132.7 L321.0,134.5 L321.1,136.2 L321.3,137.9 L321.5,139.5 L321.7,141.1 L322.1,142.7 L322.4,144.3 L322.8,145.8 L323.3,147.3 L323.8,148.7 L324.4,150.1 L325.0,151.5 L325.7,152.8 L326.4,154.2 L327.1,155.4 L327.9,156.7 L328.7,157.9 L329.6,159.1 L330.5,160.3 L331.5,161.4 L332.4,162.6 L333.5,163.6 L334.5,164.7 L335.6,165.8 L336.7,166.8 L337.8,167.8 L339.0,168.7 L340.2,169.7 L341.4,170.6 L342.7,171.5 L343.9,172.4 L345.2,173.2 L346.5,174.1 L347.9,174.9 L349.2,175.7 L350.6,176.5 L351.9,177.3 L353.3,178.0 L354.7,178.7 L356.2,179.5 L357.6,180.2 L359.0,180.8 L360.5,181.5 L361.9,182.2 L363.4,182.8 L364.9,183.5 L366.3,184.1 L367.8,184.7 L369.3,185.3 L370.7,185.9 L372.2,186.5 L373.7,187.0 L375.1,187.6 L376.6,188.2 L378.0,188.7 L379.5,189.2 L381.0,189.8 L382.4,190.3 L383.9,190.8 L385.3,191.3 L386.8,191.8 L388.3,192.3 L389.7,192.8 L391.2,193.3 L392.6,193.8 L394.1,194.3 L395.6,194.8 L397.0,195.3 L398.5,195.7 L400.0,196.2 L401.4,196.7 L402.9,197.1 L404.4,197.6 L405.8,198.0 L407.3,198.5 L408.8,199.0 L410.3,199.4 L411.7,199.9 L413.2,200.3 L414.7,200.8 L416.2,201.3 L417.7,201.7 L419.2,202.2 L420.7,202.7 L422.2,203.1 L423.7,203.6 L425.2,204.1 L426.7,204.6 L428.2,205.1 L429.7,205.7 L431.2,206.3 L432.7,206.9 L434.2,207.5 L435.7,208.1 L437.2,208.8 L438.7,209.4 L440.1,210.1 L441.6,210.8 L443.1,211.5 L444.5,212.2 L446.0,213.0 L447.4,213.8 L448.8,214.6 L450.3,215.4 L451.7,216.2 L453.1,217.1 L454.4,218.0 L455.8,218.9 L457.1,219.9 L458.5,220.9 L459.8,221.9 L461.0,223.0 L462.3,224.0 L463.5,225.1 L464.7,226.3 L465.8,227.4 L466.9,228.6 L467.9,229.9 L468.9,231.1 L469.8,232.4 L470.7,233.7 L471.5,235.0 L472.2,236.4 L472.9,237.8 L473.5,239.2 L474.0,240.7 L474.5,242.1 L474.9,243.6 L475.2,245.1 L475.4,246.7 L475.6,248.2 L475.7,249.7 L475.7,251.3 L475.6,252.8 L475.5,254.3 L475.3,255.8 L475.1,257.3 L474.8,258.8 L474.4,260.3 L474.0,261.7 L473.5,263.2 L472.9,264.6 L472.3,265.9 L471.6,267.2 L470.8,268.5 L470.1,269.8 L469.2,271.0 L468.3,272.3 L468.7,272.0 L468.3,270.2 L467.9,268.5 L467.4,266.8 L466.8,265.2 L466.2,263.6 L465.6,262.1 L465.0,260.6 L464.3,259.3 L463.5,258.0 L462.7,256.7 L461.9,255.5 L461.1,254.4 L460.2,253.3 L459.3,252.2 L458.4,251.2 L457.4,250.2 L456.4,249.3 L455.3,248.4 L454.3,247.5 L453.2,246.7 L452.1,245.9 L450.9,245.1 L449.8,244.4 L448.6,243.7 L447.3,243.0 L446.1,242.2 L444.8,241.4 L443.5,240.6 L442.2,239.9 L440.9,239.2 L439.6,238.5 L438.2,237.8 L436.8,237.2 L435.4,236.6 L434.0,236.0 L432.6,235.4 L431.2,234.8 L429.7,234.3 L428.3,233.8 L426.8,233.3 L425.3,232.8 L423.8,232.3 L422.3,231.8 L420.8,231.3 L419.3,230.9 L417.8,230.4 L416.2,230.0 L414.7,229.6 L413.2,229.2 L411.6,228.8 L410.1,228.3 L408.6,227.9 L407.0,227.5 L405.5,227.2 L404.0,226.6 L402.4,226.0 L400.9,225.4 L399.4,224.8 L397.8,224.1 L396.3,223.5 L394.8,222.9 L393.3,222.3 L391.7,221.7 L390.2,221.0 L388.7,220.4 L387.2,219.9 L385.7,219.5 L384.2,219.0 L382.7,218.6 L381.2,218.1 L379.7,217.7 L378.2,217.2 L376.7,216.8 L375.2,216.3 L373.8,215.8 L372.3,215.3 L370.8,214.8 L369.4,214.2 L367.9,213.7 L366.5,213.1 L365.1,212.5 L363.6,211.9 L362.2,211.3 L360.8,210.7 L359.4,210.0 L358.0,209.4 L356.6,208.7 L355.2,208.0 L353.9,207.3 L352.5,206.5 L351.2,205.7 L349.8,204.9 L348.5,204.1 L347.2,203.3 L345.9,202.4 L344.6,201.5 L343.3,200.6 L342.0,199.6 L340.7,198.6 L339.5,197.6 L338.3,196.6 L337.0,195.6 L335.8,194.5 L334.7,193.4 L333.5,192.3 L332.4,191.2 L331.3,190.0 L330.2,188.8 L329.1,187.7 L328.1,186.4 L327.1,185.2 L326.1,184.0 L325.1,182.7 L324.2,181.4 L323.3,180.1 L322.5,178.8 L321.6,177.5 L320.8,176.1 L320.1,174.8 L319.4,173.4 L318.7,172.0 L318.1,170.6 L317.5,169.2 L316.9,167.8 L316.4,166.3 L315.9,164.9 L315.5,163.4 L315.1,162.0 L314.8,160.5 L314.5,159.0 L314.2,157.6 L314.0,156.1 L313.9,154.6 L313.8,153.1 L313.7,151.6 L313.7,150.1 L313.7,148.6 L313.8,147.1 L313.9,145.6 L314.1,144.1 L314.3,142.6 L314.6,141.2 L314.9,139.7 L315.3,138.2 L315.7,136.8 L316.1,135.3 L316.6,133.9 L317.1,132.5 L317.7,131.1 L318.3,129.6 L319.0,128.3 L319.7,126.9 L320.4,125.5 L321.1,124.2 Z" fill="#bac3c6"/><path d="M392.8,198.0 L395.8,198.8 L398.8,199.6 L401.8,200.4 L404.8,201.2 L407.9,202.0 L410.9,202.8 L413.9,203.6 L416.9,204.5 L419.9,205.3 L422.8,206.2 L425.7,207.1 L428.6,208.1 L431.5,209.3 L434.3,210.5 L437.0,211.8 L439.7,213.1 L442.4,214.5 L445.0,215.9 L447.5,217.4 L450.0,219.0 L452.4,220.7 L454.7,222.4 L456.9,224.2 L459.1,226.2 L461.1,228.2 L463.1,230.3 L464.9,232.5 L466.7,234.9 L468.3,237.3 L469.7,239.9 L470.9,242.6 L472.0,245.5 L472.8,248.5 L473.3,251.6 L473.6,255.0" fill="none" stroke="#e4e9eb" stroke-width="1.5"/></g>
<line x1="388.3" y1="193" x2="388.3" y2="221.5" stroke="#d4dadd" stroke-width="1.1"/>
<use href="#FL" y="-214" fill="#bac3c6"/>
<path d="M317.0,561.9 L317.2,565.2 L317.7,568.4 L318.4,571.4 L319.4,574.3 L320.6,577.1 L322.0,579.7 L323.6,582.2 L325.3,584.6 L327.2,586.9 L329.2,589.1 L331.4,591.3 L333.6,593.3 L335.9,595.2 L338.3,597.1 L340.7,598.9 L343.2,600.7 L345.6,602.4 L348.2,604.0 L350.7,605.6 L353.3,607.1 L355.9,608.6 L358.6,610.0 L361.3,611.4 L364.0,612.7 L366.7,614.0 L369.5,615.3 L372.3,616.5 L375.1,617.6 L378.0,618.8 L380.9,619.9 L383.8,620.9 L386.8,622.0 L389.8,623.0 L392.8,624.0 L395.8,625.0 L398.8,626.0 L401.8,626.9 L404.8,627.9 L407.9,628.9 L410.9,629.8 L413.9,630.8 L416.9,631.8 L419.9,632.9 L422.8,633.9 L425.7,635.0 L428.6,636.1 L431.5,637.3 L434.3,638.5 L437.0,639.8 L439.7,641.1 L442.4,642.5 L445.0,643.9 L447.5,645.4 L450.0,647.0 L452.4,648.7 L454.7,650.4 L456.9,652.2 L459.1,654.2 L461.1,656.2 L463.1,658.3 L464.9,660.5 L466.7,662.9 L468.3,665.3 L469.7,667.9 L470.9,670.6 L472.0,673.5 L472.8,676.5 L473.3,679.6 L473.6,683.0" transform="translate(0,-214)" fill="none" stroke="#e4e9eb" stroke-width="1.5"/>
<use href="#FL" y="0" fill="#bac3c6"/>
<path d="M317.0,561.9 L317.2,565.2 L317.7,568.4 L318.4,571.4 L319.4,574.3 L320.6,577.1 L322.0,579.7 L323.6,582.2 L325.3,584.6 L327.2,586.9 L329.2,589.1 L331.4,591.3 L333.6,593.3 L335.9,595.2 L338.3,597.1 L340.7,598.9 L343.2,600.7 L345.6,602.4 L348.2,604.0 L350.7,605.6 L353.3,607.1 L355.9,608.6 L358.6,610.0 L361.3,611.4 L364.0,612.7 L366.7,614.0 L369.5,615.3 L372.3,616.5 L375.1,617.6 L378.0,618.8 L380.9,619.9 L383.8,620.9 L386.8,622.0 L389.8,623.0 L392.8,624.0 L395.8,625.0 L398.8,626.0 L401.8,626.9 L404.8,627.9 L407.9,628.9 L410.9,629.8 L413.9,630.8 L416.9,631.8 L419.9,632.9 L422.8,633.9 L425.7,635.0 L428.6,636.1 L431.5,637.3 L434.3,638.5 L437.0,639.8 L439.7,641.1 L442.4,642.5 L445.0,643.9 L447.5,645.4 L450.0,647.0 L452.4,648.7 L454.7,650.4 L456.9,652.2 L459.1,654.2 L461.1,656.2 L463.1,658.3 L464.9,660.5 L466.7,662.9 L468.3,665.3 L469.7,667.9 L470.9,670.6 L472.0,673.5 L472.8,676.5 L473.3,679.6 L473.6,683.0" transform="translate(0,0)" fill="none" stroke="#e4e9eb" stroke-width="1.5"/></g>
<g transform="translate(1211.5,0) scale(-1,1)"><defs>
<clipPath id="cutR"><rect x="387.6" y="0" width="200" height="879"/></clipPath>
<clipPath id="kcR"><path d="M472.9,665.8 L473.5,667.2 L474.0,668.7 L474.5,670.1 L474.9,671.6 L475.2,673.1 L475.4,674.7 L475.6,676.2 L475.7,677.7 L475.7,679.3 L475.6,680.8 L475.5,682.3 L475.3,683.8 L475.1,685.3 L474.8,686.8 L474.4,688.3 L474.0,689.7 L473.5,691.2 L472.9,692.6 L472.3,693.9 L471.6,695.2 L470.8,696.5 L470.1,697.8 L469.2,699.0 L468.3,700.3 L467.4,701.4 L466.4,702.6 L465.3,703.7 L464.2,704.8 L463.1,705.9 L462.0,706.9 L460.8,707.9 L459.5,708.9 L458.3,709.9 L457.0,710.9 L455.7,711.8 L454.3,712.7 L453.0,713.6 L451.6,714.5 L450.1,715.4 L448.7,716.2 L447.3,717.1 L445.8,717.9 L444.3,718.7 L442.9,719.5 L441.4,720.2 L439.9,721.0 L438.4,721.7 L436.9,722.5 L435.4,723.2 L433.9,723.9 L432.4,724.7 L430.9,725.4 L429.4,726.1 L427.9,726.8 L426.4,727.4 L424.9,728.1 L423.4,728.8 L421.9,729.4 L420.4,730.1 L418.9,730.8 L417.4,731.4 L415.9,732.1 L414.4,732.7 L413.0,733.3 L411.5,734.0 L410.0,734.6 L408.5,735.3 L407.1,735.9 L405.6,736.5 L404.1,737.2 L402.7,737.8 L401.2,738.4 L399.8,739.1 L398.3,739.7 L396.9,740.3 L395.4,741.0 L394.0,741.6 L392.6,742.3 L391.1,742.9 L389.7,743.6 L388.3,744.3 L386.9,744.9 L385.5,745.6 L384.1,746.3 L382.7,747.0 L381.3,747.7 L379.9,748.4 L378.5,749.1 L377.2,749.8 L375.8,750.5 L374.5,751.3 L373.1,752.0 L371.8,752.8 L370.4,753.5 L369.1,754.3 L367.8,755.1 L366.5,755.9 L365.2,756.7 L363.9,757.6 L362.6,758.4 L361.3,759.3 L360.0,760.1 L358.8,761.0 L357.5,761.9 L356.3,762.8 L355.0,763.8 L353.8,764.7 L352.6,765.7 L351.4,766.7 L350.2,767.7 L349.0,768.7 L347.8,769.8 L346.7,770.8 L345.5,771.9 L344.4,773.0 L343.3,774.1 L342.1,775.3 L341.0,776.4 L339.9,777.6 L338.8,778.8 L337.8,780.1 L336.7,781.3 L335.6,782.6 L334.6,783.9 L333.6,785.2 L332.6,786.6 L331.6,788.0 L330.6,789.4 L329.6,790.8 L328.6,792.3 L327.7,793.8 L326.8,795.3 L325.8,796.9 L315.5,805.4 L315.1,804.0 L314.8,802.5 L314.5,801.0 L314.2,799.6 L314.0,798.1 L313.9,796.6 L313.8,795.1 L313.7,793.6 L313.7,792.1 L313.7,790.6 L313.8,789.1 L313.9,787.6 L314.1,786.1 L314.3,784.6 L314.6,783.2 L314.9,781.7 L315.3,780.2 L315.7,778.8 L316.1,777.3 L316.6,775.9 L317.1,774.5 L317.7,773.1 L318.3,771.6 L319.0,770.3 L319.7,768.9 L320.4,767.5 L321.1,766.2 L321.9,764.8 L322.7,763.5 L323.6,762.2 L324.4,760.9 L325.3,759.6 L326.2,758.4 L327.2,757.1 L328.1,755.9 L329.1,754.7 L330.1,753.5 L331.1,752.4 L332.2,751.2 L333.2,750.1 L334.3,749.0 L335.4,747.9 L336.5,746.8 L337.6,745.7 L338.7,744.7 L339.9,743.7 L341.1,742.7 L342.2,741.7 L343.4,740.7 L344.6,739.7 L345.8,738.8 L347.1,737.8 L348.3,736.9 L349.6,736.0 L350.8,735.1 L352.1,734.2 L353.4,733.4 L354.7,732.5 L356.0,731.7 L357.3,730.8 L358.7,730.0 L360.0,729.2 L361.4,728.4 L362.7,727.6 L364.1,726.8 L365.4,726.0 L366.8,725.3 L368.2,724.5 L369.6,723.8 L371.0,723.0 L372.4,722.3 L373.8,721.6 L375.2,720.9 L376.6,720.1 L378.1,719.4 L379.5,718.7 L380.9,718.0 L382.4,717.3 L383.8,716.7 L385.2,716.0 L386.7,715.3 L388.1,714.6 L389.6,714.0 L391.0,713.3 L392.5,712.6 L393.9,711.9 L395.4,711.3 L396.8,710.6 L398.3,710.0 L399.7,709.3 L401.2,708.6 L402.6,708.0 L404.1,707.3 L405.5,706.7 L407.0,706.0 L408.4,705.3 L409.8,704.7 L411.3,704.0 L412.7,703.3 L414.1,702.6 L415.5,702.0 L416.9,701.3 L418.4,700.6 L419.8,699.9 L421.2,699.2 L422.5,698.5 L423.9,697.8 L425.3,697.1 L426.7,696.4 L428.0,695.6 L429.4,694.9 L430.7,694.2 L432.0,693.4 L433.4,692.7 L434.7,691.9 L436.0,691.1 L437.3,690.3 L438.6,689.6 L439.8,688.8 L441.1,687.9 L442.3,687.1 L443.6,686.3 L444.8,685.4 L446.0,684.6 L447.2,683.7 L448.4,682.8 L449.6,681.9 L450.7,681.0 L451.8,680.1 L453.0,679.2 L454.1,678.2 L455.2,677.3 Z" transform="translate(0,-428)"/><path d="M472.9,665.8 L473.5,667.2 L474.0,668.7 L474.5,670.1 L474.9,671.6 L475.2,673.1 L475.4,674.7 L475.6,676.2 L475.7,677.7 L475.7,679.3 L475.6,680.8 L475.5,682.3 L475.3,683.8 L475.1,685.3 L474.8,686.8 L474.4,688.3 L474.0,689.7 L473.5,691.2 L472.9,692.6 L472.3,693.9 L471.6,695.2 L470.8,696.5 L470.1,697.8 L469.2,699.0 L468.3,700.3 L467.4,701.4 L466.4,702.6 L465.3,703.7 L464.2,704.8 L463.1,705.9 L462.0,706.9 L460.8,707.9 L459.5,708.9 L458.3,709.9 L457.0,710.9 L455.7,711.8 L454.3,712.7 L453.0,713.6 L451.6,714.5 L450.1,715.4 L448.7,716.2 L447.3,717.1 L445.8,717.9 L444.3,718.7 L442.9,719.5 L441.4,720.2 L439.9,721.0 L438.4,721.7 L436.9,722.5 L435.4,723.2 L433.9,723.9 L432.4,724.7 L430.9,725.4 L429.4,726.1 L427.9,726.8 L426.4,727.4 L424.9,728.1 L423.4,728.8 L421.9,729.4 L420.4,730.1 L418.9,730.8 L417.4,731.4 L415.9,732.1 L414.4,732.7 L413.0,733.3 L411.5,734.0 L410.0,734.6 L408.5,735.3 L407.1,735.9 L405.6,736.5 L404.1,737.2 L402.7,737.8 L401.2,738.4 L399.8,739.1 L398.3,739.7 L396.9,740.3 L395.4,741.0 L394.0,741.6 L392.6,742.3 L391.1,742.9 L389.7,743.6 L388.3,744.3 L386.9,744.9 L385.5,745.6 L384.1,746.3 L382.7,747.0 L381.3,747.7 L379.9,748.4 L378.5,749.1 L377.2,749.8 L375.8,750.5 L374.5,751.3 L373.1,752.0 L371.8,752.8 L370.4,753.5 L369.1,754.3 L367.8,755.1 L366.5,755.9 L365.2,756.7 L363.9,757.6 L362.6,758.4 L361.3,759.3 L360.0,760.1 L358.8,761.0 L357.5,761.9 L356.3,762.8 L355.0,763.8 L353.8,764.7 L352.6,765.7 L351.4,766.7 L350.2,767.7 L349.0,768.7 L347.8,769.8 L346.7,770.8 L345.5,771.9 L344.4,773.0 L343.3,774.1 L342.1,775.3 L341.0,776.4 L339.9,777.6 L338.8,778.8 L337.8,780.1 L336.7,781.3 L335.6,782.6 L334.6,783.9 L333.6,785.2 L332.6,786.6 L331.6,788.0 L330.6,789.4 L329.6,790.8 L328.6,792.3 L327.7,793.8 L326.8,795.3 L325.8,796.9 L315.5,805.4 L315.1,804.0 L314.8,802.5 L314.5,801.0 L314.2,799.6 L314.0,798.1 L313.9,796.6 L313.8,795.1 L313.7,793.6 L313.7,792.1 L313.7,790.6 L313.8,789.1 L313.9,787.6 L314.1,786.1 L314.3,784.6 L314.6,783.2 L314.9,781.7 L315.3,780.2 L315.7,778.8 L316.1,777.3 L316.6,775.9 L317.1,774.5 L317.7,773.1 L318.3,771.6 L319.0,770.3 L319.7,768.9 L320.4,767.5 L321.1,766.2 L321.9,764.8 L322.7,763.5 L323.6,762.2 L324.4,760.9 L325.3,759.6 L326.2,758.4 L327.2,757.1 L328.1,755.9 L329.1,754.7 L330.1,753.5 L331.1,752.4 L332.2,751.2 L333.2,750.1 L334.3,749.0 L335.4,747.9 L336.5,746.8 L337.6,745.7 L338.7,744.7 L339.9,743.7 L341.1,742.7 L342.2,741.7 L343.4,740.7 L344.6,739.7 L345.8,738.8 L347.1,737.8 L348.3,736.9 L349.6,736.0 L350.8,735.1 L352.1,734.2 L353.4,733.4 L354.7,732.5 L356.0,731.7 L357.3,730.8 L358.7,730.0 L360.0,729.2 L361.4,728.4 L362.7,727.6 L364.1,726.8 L365.4,726.0 L366.8,725.3 L368.2,724.5 L369.6,723.8 L371.0,723.0 L372.4,722.3 L373.8,721.6 L375.2,720.9 L376.6,720.1 L378.1,719.4 L379.5,718.7 L380.9,718.0 L382.4,717.3 L383.8,716.7 L385.2,716.0 L386.7,715.3 L388.1,714.6 L389.6,714.0 L391.0,713.3 L392.5,712.6 L393.9,711.9 L395.4,711.3 L396.8,710.6 L398.3,710.0 L399.7,709.3 L401.2,708.6 L402.6,708.0 L404.1,707.3 L405.5,706.7 L407.0,706.0 L408.4,705.3 L409.8,704.7 L411.3,704.0 L412.7,703.3 L414.1,702.6 L415.5,702.0 L416.9,701.3 L418.4,700.6 L419.8,699.9 L421.2,699.2 L422.5,698.5 L423.9,697.8 L425.3,697.1 L426.7,696.4 L428.0,695.6 L429.4,694.9 L430.7,694.2 L432.0,693.4 L433.4,692.7 L434.7,691.9 L436.0,691.1 L437.3,690.3 L438.6,689.6 L439.8,688.8 L441.1,687.9 L442.3,687.1 L443.6,686.3 L444.8,685.4 L446.0,684.6 L447.2,683.7 L448.4,682.8 L449.6,681.9 L450.7,681.0 L451.8,680.1 L453.0,679.2 L454.1,678.2 L455.2,677.3 Z" transform="translate(0,-214)"/><path d="M472.9,665.8 L473.5,667.2 L474.0,668.7 L474.5,670.1 L474.9,671.6 L475.2,673.1 L475.4,674.7 L475.6,676.2 L475.7,677.7 L475.7,679.3 L475.6,680.8 L475.5,682.3 L475.3,683.8 L475.1,685.3 L474.8,686.8 L474.4,688.3 L474.0,689.7 L473.5,691.2 L472.9,692.6 L472.3,693.9 L471.6,695.2 L470.8,696.5 L470.1,697.8 L469.2,699.0 L468.3,700.3 L467.4,701.4 L466.4,702.6 L465.3,703.7 L464.2,704.8 L463.1,705.9 L462.0,706.9 L460.8,707.9 L459.5,708.9 L458.3,709.9 L457.0,710.9 L455.7,711.8 L454.3,712.7 L453.0,713.6 L451.6,714.5 L450.1,715.4 L448.7,716.2 L447.3,717.1 L445.8,717.9 L444.3,718.7 L442.9,719.5 L441.4,720.2 L439.9,721.0 L438.4,721.7 L436.9,722.5 L435.4,723.2 L433.9,723.9 L432.4,724.7 L430.9,725.4 L429.4,726.1 L427.9,726.8 L426.4,727.4 L424.9,728.1 L423.4,728.8 L421.9,729.4 L420.4,730.1 L418.9,730.8 L417.4,731.4 L415.9,732.1 L414.4,732.7 L413.0,733.3 L411.5,734.0 L410.0,734.6 L408.5,735.3 L407.1,735.9 L405.6,736.5 L404.1,737.2 L402.7,737.8 L401.2,738.4 L399.8,739.1 L398.3,739.7 L396.9,740.3 L395.4,741.0 L394.0,741.6 L392.6,742.3 L391.1,742.9 L389.7,743.6 L388.3,744.3 L386.9,744.9 L385.5,745.6 L384.1,746.3 L382.7,747.0 L381.3,747.7 L379.9,748.4 L378.5,749.1 L377.2,749.8 L375.8,750.5 L374.5,751.3 L373.1,752.0 L371.8,752.8 L370.4,753.5 L369.1,754.3 L367.8,755.1 L366.5,755.9 L365.2,756.7 L363.9,757.6 L362.6,758.4 L361.3,759.3 L360.0,760.1 L358.8,761.0 L357.5,761.9 L356.3,762.8 L355.0,763.8 L353.8,764.7 L352.6,765.7 L351.4,766.7 L350.2,767.7 L349.0,768.7 L347.8,769.8 L346.7,770.8 L345.5,771.9 L344.4,773.0 L343.3,774.1 L342.1,775.3 L341.0,776.4 L339.9,777.6 L338.8,778.8 L337.8,780.1 L336.7,781.3 L335.6,782.6 L334.6,783.9 L333.6,785.2 L332.6,786.6 L331.6,788.0 L330.6,789.4 L329.6,790.8 L328.6,792.3 L327.7,793.8 L326.8,795.3 L325.8,796.9 L315.5,805.4 L315.1,804.0 L314.8,802.5 L314.5,801.0 L314.2,799.6 L314.0,798.1 L313.9,796.6 L313.8,795.1 L313.7,793.6 L313.7,792.1 L313.7,790.6 L313.8,789.1 L313.9,787.6 L314.1,786.1 L314.3,784.6 L314.6,783.2 L314.9,781.7 L315.3,780.2 L315.7,778.8 L316.1,777.3 L316.6,775.9 L317.1,774.5 L317.7,773.1 L318.3,771.6 L319.0,770.3 L319.7,768.9 L320.4,767.5 L321.1,766.2 L321.9,764.8 L322.7,763.5 L323.6,762.2 L324.4,760.9 L325.3,759.6 L326.2,758.4 L327.2,757.1 L328.1,755.9 L329.1,754.7 L330.1,753.5 L331.1,752.4 L332.2,751.2 L333.2,750.1 L334.3,749.0 L335.4,747.9 L336.5,746.8 L337.6,745.7 L338.7,744.7 L339.9,743.7 L341.1,742.7 L342.2,741.7 L343.4,740.7 L344.6,739.7 L345.8,738.8 L347.1,737.8 L348.3,736.9 L349.6,736.0 L350.8,735.1 L352.1,734.2 L353.4,733.4 L354.7,732.5 L356.0,731.7 L357.3,730.8 L358.7,730.0 L360.0,729.2 L361.4,728.4 L362.7,727.6 L364.1,726.8 L365.4,726.0 L366.8,725.3 L368.2,724.5 L369.6,723.8 L371.0,723.0 L372.4,722.3 L373.8,721.6 L375.2,720.9 L376.6,720.1 L378.1,719.4 L379.5,718.7 L380.9,718.0 L382.4,717.3 L383.8,716.7 L385.2,716.0 L386.7,715.3 L388.1,714.6 L389.6,714.0 L391.0,713.3 L392.5,712.6 L393.9,711.9 L395.4,711.3 L396.8,710.6 L398.3,710.0 L399.7,709.3 L401.2,708.6 L402.6,708.0 L404.1,707.3 L405.5,706.7 L407.0,706.0 L408.4,705.3 L409.8,704.7 L411.3,704.0 L412.7,703.3 L414.1,702.6 L415.5,702.0 L416.9,701.3 L418.4,700.6 L419.8,699.9 L421.2,699.2 L422.5,698.5 L423.9,697.8 L425.3,697.1 L426.7,696.4 L428.0,695.6 L429.4,694.9 L430.7,694.2 L432.0,693.4 L433.4,692.7 L434.7,691.9 L436.0,691.1 L437.3,690.3 L438.6,689.6 L439.8,688.8 L441.1,687.9 L442.3,687.1 L443.6,686.3 L444.8,685.4 L446.0,684.6 L447.2,683.7 L448.4,682.8 L449.6,681.9 L450.7,681.0 L451.8,680.1 L453.0,679.2 L454.1,678.2 L455.2,677.3 Z"/></clipPath>
<path id="KR" d="M472.9,665.8 L473.5,667.2 L474.0,668.7 L474.5,670.1 L474.9,671.6 L475.2,673.1 L475.4,674.7 L475.6,676.2 L475.7,677.7 L475.7,679.3 L475.6,680.8 L475.5,682.3 L475.3,683.8 L475.1,685.3 L474.8,686.8 L474.4,688.3 L474.0,689.7 L473.5,691.2 L472.9,692.6 L472.3,693.9 L471.6,695.2 L470.8,696.5 L470.1,697.8 L469.2,699.0 L468.3,700.3 L467.4,701.4 L466.4,702.6 L465.3,703.7 L464.2,704.8 L463.1,705.9 L462.0,706.9 L460.8,707.9 L459.5,708.9 L458.3,709.9 L457.0,710.9 L455.7,711.8 L454.3,712.7 L453.0,713.6 L451.6,714.5 L450.1,715.4 L448.7,716.2 L447.3,717.1 L445.8,717.9 L444.3,718.7 L442.9,719.5 L441.4,720.2 L439.9,721.0 L438.4,721.7 L436.9,722.5 L435.4,723.2 L433.9,723.9 L432.4,724.7 L430.9,725.4 L429.4,726.1 L427.9,726.8 L426.4,727.4 L424.9,728.1 L423.4,728.8 L421.9,729.4 L420.4,730.1 L418.9,730.8 L417.4,731.4 L415.9,732.1 L414.4,732.7 L413.0,733.3 L411.5,734.0 L410.0,734.6 L408.5,735.3 L407.1,735.9 L405.6,736.5 L404.1,737.2 L402.7,737.8 L401.2,738.4 L399.8,739.1 L398.3,739.7 L396.9,740.3 L395.4,741.0 L394.0,741.6 L392.6,742.3 L391.1,742.9 L389.7,743.6 L388.3,744.3 L386.9,744.9 L385.5,745.6 L384.1,746.3 L382.7,747.0 L381.3,747.7 L379.9,748.4 L378.5,749.1 L377.2,749.8 L375.8,750.5 L374.5,751.3 L373.1,752.0 L371.8,752.8 L370.4,753.5 L369.1,754.3 L367.8,755.1 L366.5,755.9 L365.2,756.7 L363.9,757.6 L362.6,758.4 L361.3,759.3 L360.0,760.1 L358.8,761.0 L357.5,761.9 L356.3,762.8 L355.0,763.8 L353.8,764.7 L352.6,765.7 L351.4,766.7 L350.2,767.7 L349.0,768.7 L347.8,769.8 L346.7,770.8 L345.5,771.9 L344.4,773.0 L343.3,774.1 L342.1,775.3 L341.0,776.4 L339.9,777.6 L338.8,778.8 L337.8,780.1 L336.7,781.3 L335.6,782.6 L334.6,783.9 L333.6,785.2 L332.6,786.6 L331.6,788.0 L330.6,789.4 L329.6,790.8 L328.6,792.3 L327.7,793.8 L326.8,795.3 L325.8,796.9 L315.5,805.4 L315.1,804.0 L314.8,802.5 L314.5,801.0 L314.2,799.6 L314.0,798.1 L313.9,796.6 L313.8,795.1 L313.7,793.6 L313.7,792.1 L313.7,790.6 L313.8,789.1 L313.9,787.6 L314.1,786.1 L314.3,784.6 L314.6,783.2 L314.9,781.7 L315.3,780.2 L315.7,778.8 L316.1,777.3 L316.6,775.9 L317.1,774.5 L317.7,773.1 L318.3,771.6 L319.0,770.3 L319.7,768.9 L320.4,767.5 L321.1,766.2 L321.9,764.8 L322.7,763.5 L323.6,762.2 L324.4,760.9 L325.3,759.6 L326.2,758.4 L327.2,757.1 L328.1,755.9 L329.1,754.7 L330.1,753.5 L331.1,752.4 L332.2,751.2 L333.2,750.1 L334.3,749.0 L335.4,747.9 L336.5,746.8 L337.6,745.7 L338.7,744.7 L339.9,743.7 L341.1,742.7 L342.2,741.7 L343.4,740.7 L344.6,739.7 L345.8,738.8 L347.1,737.8 L348.3,736.9 L349.6,736.0 L350.8,735.1 L352.1,734.2 L353.4,733.4 L354.7,732.5 L356.0,731.7 L357.3,730.8 L358.7,730.0 L360.0,729.2 L361.4,728.4 L362.7,727.6 L364.1,726.8 L365.4,726.0 L366.8,725.3 L368.2,724.5 L369.6,723.8 L371.0,723.0 L372.4,722.3 L373.8,721.6 L375.2,720.9 L376.6,720.1 L378.1,719.4 L379.5,718.7 L380.9,718.0 L382.4,717.3 L383.8,716.7 L385.2,716.0 L386.7,715.3 L388.1,714.6 L389.6,714.0 L391.0,713.3 L392.5,712.6 L393.9,711.9 L395.4,711.3 L396.8,710.6 L398.3,710.0 L399.7,709.3 L401.2,708.6 L402.6,708.0 L404.1,707.3 L405.5,706.7 L407.0,706.0 L408.4,705.3 L409.8,704.7 L411.3,704.0 L412.7,703.3 L414.1,702.6 L415.5,702.0 L416.9,701.3 L418.4,700.6 L419.8,699.9 L421.2,699.2 L422.5,698.5 L423.9,697.8 L425.3,697.1 L426.7,696.4 L428.0,695.6 L429.4,694.9 L430.7,694.2 L432.0,693.4 L433.4,692.7 L434.7,691.9 L436.0,691.1 L437.3,690.3 L438.6,689.6 L439.8,688.8 L441.1,687.9 L442.3,687.1 L443.6,686.3 L444.8,685.4 L446.0,684.6 L447.2,683.7 L448.4,682.8 L449.6,681.9 L450.7,681.0 L451.8,680.1 L453.0,679.2 L454.1,678.2 L455.2,677.3 Z"/>
<path id="FR" d="M321.1,550.9 L321.0,552.7 L321.0,554.5 L321.0,556.3 L321.1,558.0 L321.3,559.7 L321.5,561.4 L321.7,563.0 L322.1,564.6 L322.4,566.2 L322.8,567.7 L323.3,569.2 L323.8,570.7 L324.4,572.2 L325.0,573.6 L325.7,575.0 L326.4,576.3 L327.1,577.6 L327.9,578.9 L328.7,580.2 L329.6,581.5 L330.5,582.7 L331.5,583.9 L332.4,585.1 L333.5,586.2 L334.5,587.3 L335.6,588.4 L336.7,589.5 L337.8,590.6 L339.0,591.6 L340.2,592.6 L341.4,593.6 L342.7,594.6 L343.9,595.5 L345.2,596.5 L346.5,597.4 L347.9,598.3 L349.2,599.2 L350.6,600.0 L351.9,600.9 L353.3,601.7 L354.7,602.5 L356.2,603.3 L357.6,604.1 L359.0,604.9 L360.5,605.6 L361.9,606.4 L363.4,607.1 L364.9,607.8 L366.3,608.5 L367.8,609.2 L369.3,609.9 L370.7,610.6 L372.2,611.3 L373.7,611.9 L375.1,612.6 L376.6,613.2 L378.0,613.8 L379.5,614.5 L381.0,615.1 L382.4,615.7 L383.9,616.3 L385.3,616.9 L386.8,617.5 L388.3,618.1 L389.7,618.6 L391.2,619.2 L392.6,619.8 L394.1,620.3 L395.6,620.9 L397.0,621.5 L398.5,622.0 L400.0,622.6 L401.4,623.1 L402.9,623.7 L404.4,624.2 L405.8,624.8 L407.3,625.3 L408.8,625.9 L410.3,626.4 L411.7,626.9 L413.2,627.5 L414.7,628.0 L416.2,628.6 L417.7,629.1 L419.2,629.7 L420.7,630.2 L422.2,630.8 L423.7,631.4 L425.2,631.9 L426.7,632.5 L428.2,633.1 L429.7,633.7 L431.2,634.3 L432.7,634.9 L434.2,635.5 L435.7,636.1 L437.2,636.8 L438.7,637.4 L440.1,638.1 L441.6,638.8 L443.1,639.5 L444.5,640.2 L446.0,641.0 L447.4,641.8 L448.8,642.6 L450.3,643.4 L451.7,644.2 L453.1,645.1 L454.4,646.0 L455.8,646.9 L457.1,647.9 L458.5,648.9 L459.8,649.9 L461.0,651.0 L462.3,652.0 L463.5,653.1 L464.7,654.3 L465.8,655.4 L466.9,656.6 L467.9,657.9 L468.9,659.1 L469.8,660.4 L470.7,661.7 L471.5,663.0 L472.2,664.4 L472.9,665.8 L473.5,667.2 L474.0,668.7 L474.5,670.1 L474.9,671.6 L475.2,673.1 L475.4,674.7 L475.6,676.2 L475.7,677.7 L475.7,679.3 L475.6,680.8 L475.5,682.3 L475.3,683.8 L475.1,685.3 L474.8,686.8 L474.4,688.3 L474.0,689.7 L473.5,691.2 L472.9,692.6 L472.3,693.9 L471.6,695.2 L470.8,696.5 L470.1,697.8 L469.2,699.0 L468.3,700.3 L468.7,700.0 L468.3,698.2 L467.9,696.5 L467.4,694.8 L466.8,693.2 L466.2,691.6 L465.6,690.1 L465.0,688.6 L464.3,687.1 L463.5,685.7 L462.7,684.4 L461.9,683.1 L461.1,681.8 L460.2,680.6 L459.3,679.4 L458.4,678.2 L457.4,677.1 L456.4,676.0 L455.3,674.9 L454.3,673.9 L453.2,672.9 L452.1,672.0 L450.9,671.1 L449.8,670.2 L448.6,669.3 L447.3,668.5 L446.1,667.7 L444.8,666.9 L443.5,666.1 L442.2,665.4 L440.9,664.7 L439.6,664.0 L438.2,663.3 L436.8,662.7 L435.4,662.1 L434.0,661.5 L432.6,660.9 L431.2,660.3 L429.7,659.8 L428.3,659.3 L426.8,658.8 L425.3,658.3 L423.8,657.8 L422.3,657.3 L420.8,656.8 L419.3,656.4 L417.8,655.9 L416.2,655.5 L414.7,655.1 L413.2,654.7 L411.6,654.3 L410.1,653.8 L408.6,653.4 L407.0,653.0 L405.5,652.7 L404.0,652.3 L402.4,651.9 L400.9,651.5 L399.4,651.1 L397.8,650.7 L396.3,650.3 L394.8,649.9 L393.3,649.5 L391.7,649.1 L390.2,648.7 L388.7,648.3 L387.2,647.9 L385.7,647.5 L384.2,647.0 L382.7,646.6 L381.2,646.1 L379.7,645.7 L378.2,645.2 L376.7,644.8 L375.2,644.3 L373.8,643.8 L372.3,643.3 L370.8,642.8 L369.4,642.2 L367.9,641.7 L366.5,641.1 L365.1,640.5 L363.6,639.9 L362.2,639.3 L360.8,638.7 L359.4,638.0 L358.0,637.4 L356.6,636.7 L355.2,636.0 L353.9,635.3 L352.5,634.5 L351.2,633.7 L349.8,632.9 L348.5,632.1 L347.2,631.3 L345.9,630.4 L344.6,629.5 L343.3,628.6 L342.0,627.6 L340.7,626.6 L339.5,625.6 L338.3,624.6 L337.0,623.6 L335.8,622.5 L334.7,621.4 L333.5,620.3 L332.4,619.2 L331.3,618.0 L330.2,616.8 L329.1,615.7 L328.1,614.4 L327.1,613.2 L326.1,612.0 L325.1,610.7 L324.2,609.4 L323.3,608.1 L322.5,606.8 L321.6,605.5 L320.8,604.1 L320.1,602.8 L319.4,601.4 L318.7,600.0 L318.1,598.6 L317.5,597.2 L316.9,595.8 L316.4,594.3 L315.9,592.9 L315.5,591.4 L315.1,590.0 L314.8,588.5 L314.5,587.0 L314.2,585.6 L314.0,584.1 L313.9,582.6 L313.8,581.1 L313.7,579.6 L313.7,578.1 L313.7,576.6 L313.8,575.1 L313.9,573.6 L314.1,572.1 L314.3,570.6 L314.6,569.2 L314.9,567.7 L315.3,566.2 L315.7,564.8 L316.1,563.3 L316.6,561.9 L317.1,560.5 L317.7,559.1 L318.3,557.6 L319.0,556.3 L319.7,554.9 L320.4,553.5 L321.1,552.2 Z"/>
</defs>
<use href="#KR" y="-428" fill="#7a8291"/>
<use href="#KR" y="-214" fill="#7a8291"/>
<g clip-path="url(#cutR)"><use href="#KR" fill="#7a8291"/></g>
<path d="M450.7,467.0 L449.6,467.9 L448.4,468.8 L447.2,469.7 L446.0,470.6 L444.8,471.4 L443.6,472.3 L442.3,473.1 L441.1,473.9 L439.8,474.8 L438.6,475.6 L437.3,476.3 L436.0,477.1 L434.7,477.9 L433.4,478.7 L432.0,479.4 L430.7,480.2 L429.4,480.9 L428.0,481.6 L426.7,482.4 L425.3,483.1 L423.9,483.8 L422.5,484.5 L421.2,485.2 L419.8,485.9 L418.4,486.6 L416.9,487.3 L415.5,488.0 L414.1,488.6 L412.7,489.3 L411.3,490.0 L409.8,490.7 L408.4,491.3 L407.0,492.0 L405.5,492.7 L404.1,493.3 L402.6,494.0 L401.2,494.6 L399.7,495.3 L398.3,496.0 L396.8,496.6 L395.4,497.3 L393.9,497.9 L392.5,498.6 L391.0,499.3 L389.6,500.0 L388.1,500.6 L386.7,501.3 L385.2,502.0 L383.8,502.7 L382.4,503.3 L380.9,504.0 L379.5,504.7 L378.1,505.4 L376.6,506.1 L375.2,506.9 L373.8,507.6 L372.4,508.3 L371.0,509.0 L369.6,509.8 L368.2,510.5 L366.8,511.3 L365.4,512.0 L364.1,512.8 L362.7,513.6 L361.4,514.4 L360.0,515.2 L358.7,516.0 L357.3,516.8 L356.0,517.7 L354.7,518.5 L353.4,519.4 L352.1,520.2 L350.8,521.1 L349.6,522.0 L348.3,522.9 L347.1,523.8 L345.8,524.8 L344.6,525.7 L343.4,526.7 L342.2,527.7 L341.1,528.7 L339.9,529.7 L338.7,530.7 L337.6,531.7 L336.5,532.8 L335.4,533.9 L334.3,535.0 L333.2,536.1 L332.2,537.2 L331.1,538.4 L330.1,539.5 L329.1,540.7 L328.1,541.9 L327.2,543.1 L326.2,544.4 L325.3,545.6 L324.4,546.9 L323.6,548.2 L322.7,549.5 L321.9,550.8 L321.1,552.2 L320.4,553.5 L319.7,554.9 L319.0,556.3 L318.3,557.6 L317.7,559.1 L317.1,560.5 L316.6,561.9 L316.1,563.3 L315.7,564.8 L315.3,566.2 L314.9,567.7 L314.6,569.2 L314.3,570.6 L314.1,572.1 L313.9,573.6 L313.8,575.1 L313.7,576.6" transform="translate(0,-214)" fill="none" stroke="#cdd4d8" stroke-width="1.6"/>
<path d="M450.7,467.0 L449.6,467.9 L448.4,468.8 L447.2,469.7 L446.0,470.6 L444.8,471.4 L443.6,472.3 L442.3,473.1 L441.1,473.9 L439.8,474.8 L438.6,475.6 L437.3,476.3 L436.0,477.1 L434.7,477.9 L433.4,478.7 L432.0,479.4 L430.7,480.2 L429.4,480.9 L428.0,481.6 L426.7,482.4 L425.3,483.1 L423.9,483.8 L422.5,484.5 L421.2,485.2 L419.8,485.9 L418.4,486.6 L416.9,487.3 L415.5,488.0 L414.1,488.6 L412.7,489.3 L411.3,490.0 L409.8,490.7 L408.4,491.3 L407.0,492.0 L405.5,492.7 L404.1,493.3 L402.6,494.0 L401.2,494.6 L399.7,495.3 L398.3,496.0 L396.8,496.6 L395.4,497.3 L393.9,497.9 L392.5,498.6 L391.0,499.3 L389.6,500.0 L388.1,500.6 L386.7,501.3 L385.2,502.0 L383.8,502.7 L382.4,503.3 L380.9,504.0 L379.5,504.7 L378.1,505.4 L376.6,506.1 L375.2,506.9 L373.8,507.6 L372.4,508.3 L371.0,509.0 L369.6,509.8 L368.2,510.5 L366.8,511.3 L365.4,512.0 L364.1,512.8 L362.7,513.6 L361.4,514.4 L360.0,515.2 L358.7,516.0 L357.3,516.8 L356.0,517.7 L354.7,518.5 L353.4,519.4 L352.1,520.2 L350.8,521.1 L349.6,522.0 L348.3,522.9 L347.1,523.8 L345.8,524.8 L344.6,525.7 L343.4,526.7 L342.2,527.7 L341.1,528.7 L339.9,529.7 L338.7,530.7 L337.6,531.7 L336.5,532.8 L335.4,533.9 L334.3,535.0 L333.2,536.1 L332.2,537.2 L331.1,538.4 L330.1,539.5 L329.1,540.7 L328.1,541.9 L327.2,543.1 L326.2,544.4 L325.3,545.6 L324.4,546.9 L323.6,548.2 L322.7,549.5 L321.9,550.8 L321.1,552.2 L320.4,553.5 L319.7,554.9 L319.0,556.3 L318.3,557.6 L317.7,559.1 L317.1,560.5 L316.6,561.9 L316.1,563.3 L315.7,564.8 L315.3,566.2 L314.9,567.7 L314.6,569.2 L314.3,570.6 L314.1,572.1 L313.9,573.6 L313.8,575.1 L313.7,576.6" transform="translate(0,0)" fill="none" stroke="#cdd4d8" stroke-width="1.6"/>
<path d="M468.3,700.3 L467.4,701.4 L466.4,702.6 L465.3,703.7 L464.2,704.8 L463.1,705.9 L462.0,706.9 L460.8,707.9 L459.5,708.9 L458.3,709.9 L457.0,710.9 L455.7,711.8 L454.3,712.7 L453.0,713.6 L451.6,714.5 L450.1,715.4 L448.7,716.2 L447.3,717.1 L445.8,717.9 L444.3,718.7 L442.9,719.5 L441.4,720.2 L439.9,721.0 L438.4,721.7 L436.9,722.5 L435.4,723.2 L433.9,723.9 L432.4,724.7 L430.9,725.4 L429.4,726.1 L427.9,726.8 L426.4,727.4 L424.9,728.1 L423.4,728.8 L421.9,729.4 L420.4,730.1 L418.9,730.8 L417.4,731.4 L415.9,732.1 L414.4,732.7 L413.0,733.3 L411.5,734.0 L410.0,734.6 L408.5,735.3 L407.1,735.9 L405.6,736.5 L404.1,737.2 L402.7,737.8 L401.2,738.4 L399.8,739.1 L398.3,739.7 L396.9,740.3 L395.4,741.0 L394.0,741.6 L392.6,742.3 L391.1,742.9 L389.7,743.6 L388.3,744.3 L386.9,744.9 L385.5,745.6 L384.1,746.3 L382.7,747.0 L381.3,747.7 L379.9,748.4 L378.5,749.1 L377.2,749.8 L375.8,750.5 L374.5,751.3 L373.1,752.0 L371.8,752.8 L370.4,753.5 L369.1,754.3 L367.8,755.1 L366.5,755.9 L365.2,756.7 L363.9,757.6 L362.6,758.4 L361.3,759.3 L360.0,760.1 L358.8,761.0 L357.5,761.9 L356.3,762.8 L355.0,763.8 L353.8,764.7 L352.6,765.7 L351.4,766.7 L350.2,767.7 L349.0,768.7 L347.8,769.8 L346.7,770.8 L345.5,771.9 L344.4,773.0 L343.3,774.1 L342.1,775.3 L341.0,776.4 L339.9,777.6 L338.8,778.8 L337.8,780.1 L336.7,781.3 L335.6,782.6" transform="translate(0,-428)" fill="none" stroke="#dde3e6" stroke-width="1.5"/>
<path d="M468.3,700.3 L467.4,701.4 L466.4,702.6 L465.3,703.7 L464.2,704.8 L463.1,705.9 L462.0,706.9 L460.8,707.9 L459.5,708.9 L458.3,709.9 L457.0,710.9 L455.7,711.8 L454.3,712.7 L453.0,713.6 L451.6,714.5 L450.1,715.4 L448.7,716.2 L447.3,717.1 L445.8,717.9 L444.3,718.7 L442.9,719.5 L441.4,720.2 L439.9,721.0 L438.4,721.7 L436.9,722.5 L435.4,723.2 L433.9,723.9 L432.4,724.7 L430.9,725.4 L429.4,726.1 L427.9,726.8 L426.4,727.4 L424.9,728.1 L423.4,728.8 L421.9,729.4 L420.4,730.1 L418.9,730.8 L417.4,731.4 L415.9,732.1 L414.4,732.7 L413.0,733.3 L411.5,734.0 L410.0,734.6 L408.5,735.3 L407.1,735.9 L405.6,736.5 L404.1,737.2 L402.7,737.8 L401.2,738.4 L399.8,739.1 L398.3,739.7 L396.9,740.3 L395.4,741.0 L394.0,741.6 L392.6,742.3 L391.1,742.9 L389.7,743.6 L388.3,744.3 L386.9,744.9 L385.5,745.6 L384.1,746.3 L382.7,747.0 L381.3,747.7 L379.9,748.4 L378.5,749.1 L377.2,749.8 L375.8,750.5 L374.5,751.3 L373.1,752.0 L371.8,752.8 L370.4,753.5 L369.1,754.3 L367.8,755.1 L366.5,755.9 L365.2,756.7 L363.9,757.6 L362.6,758.4 L361.3,759.3 L360.0,760.1 L358.8,761.0 L357.5,761.9 L356.3,762.8 L355.0,763.8 L353.8,764.7 L352.6,765.7 L351.4,766.7 L350.2,767.7 L349.0,768.7 L347.8,769.8 L346.7,770.8 L345.5,771.9 L344.4,773.0 L343.3,774.1 L342.1,775.3 L341.0,776.4 L339.9,777.6 L338.8,778.8 L337.8,780.1 L336.7,781.3 L335.6,782.6" transform="translate(0,-214)" fill="none" stroke="#dde3e6" stroke-width="1.5"/>
<g clip-path="url(#cutR)">
<path d="M450.7,467.0 L449.6,467.9 L448.4,468.8 L447.2,469.7 L446.0,470.6 L444.8,471.4 L443.6,472.3 L442.3,473.1 L441.1,473.9 L439.8,474.8 L438.6,475.6 L437.3,476.3 L436.0,477.1 L434.7,477.9 L433.4,478.7 L432.0,479.4 L430.7,480.2 L429.4,480.9 L428.0,481.6 L426.7,482.4 L425.3,483.1 L423.9,483.8 L422.5,484.5 L421.2,485.2 L419.8,485.9 L418.4,486.6 L416.9,487.3 L415.5,488.0 L414.1,488.6 L412.7,489.3 L411.3,490.0 L409.8,490.7 L408.4,491.3 L407.0,492.0 L405.5,492.7 L404.1,493.3 L402.6,494.0 L401.2,494.6 L399.7,495.3 L398.3,496.0 L396.8,496.6 L395.4,497.3 L393.9,497.9 L392.5,498.6 L391.0,499.3 L389.6,500.0 L388.1,500.6 L386.7,501.3 L385.2,502.0 L383.8,502.7 L382.4,503.3 L380.9,504.0 L379.5,504.7 L378.1,505.4 L376.6,506.1 L375.2,506.9 L373.8,507.6 L372.4,508.3 L371.0,509.0 L369.6,509.8 L368.2,510.5 L366.8,511.3 L365.4,512.0 L364.1,512.8 L362.7,513.6 L361.4,514.4 L360.0,515.2 L358.7,516.0 L357.3,516.8 L356.0,517.7 L354.7,518.5 L353.4,519.4 L352.1,520.2 L350.8,521.1 L349.6,522.0 L348.3,522.9 L347.1,523.8 L345.8,524.8 L344.6,525.7 L343.4,526.7 L342.2,527.7 L341.1,528.7 L339.9,529.7 L338.7,530.7 L337.6,531.7 L336.5,532.8 L335.4,533.9 L334.3,535.0 L333.2,536.1 L332.2,537.2 L331.1,538.4 L330.1,539.5 L329.1,540.7 L328.1,541.9 L327.2,543.1 L326.2,544.4 L325.3,545.6 L324.4,546.9 L323.6,548.2 L322.7,549.5 L321.9,550.8 L321.1,552.2 L320.4,553.5 L319.7,554.9 L319.0,556.3 L318.3,557.6 L317.7,559.1 L317.1,560.5 L316.6,561.9 L316.1,563.3 L315.7,564.8 L315.3,566.2 L314.9,567.7 L314.6,569.2 L314.3,570.6 L314.1,572.1 L313.9,573.6 L313.8,575.1 L313.7,576.6" transform="translate(0,214)" fill="none" stroke="#cdd4d8" stroke-width="1.6"/>
<path d="M468.3,700.3 L467.4,701.4 L466.4,702.6 L465.3,703.7 L464.2,704.8 L463.1,705.9 L462.0,706.9 L460.8,707.9 L459.5,708.9 L458.3,709.9 L457.0,710.9 L455.7,711.8 L454.3,712.7 L453.0,713.6 L451.6,714.5 L450.1,715.4 L448.7,716.2 L447.3,717.1 L445.8,717.9 L444.3,718.7 L442.9,719.5 L441.4,720.2 L439.9,721.0 L438.4,721.7 L436.9,722.5 L435.4,723.2 L433.9,723.9 L432.4,724.7 L430.9,725.4 L429.4,726.1 L427.9,726.8 L426.4,727.4 L424.9,728.1 L423.4,728.8 L421.9,729.4 L420.4,730.1 L418.9,730.8 L417.4,731.4 L415.9,732.1 L414.4,732.7 L413.0,733.3 L411.5,734.0 L410.0,734.6 L408.5,735.3 L407.1,735.9 L405.6,736.5 L404.1,737.2 L402.7,737.8 L401.2,738.4 L399.8,739.1 L398.3,739.7 L396.9,740.3 L395.4,741.0 L394.0,741.6 L392.6,742.3 L391.1,742.9 L389.7,743.6 L388.3,744.3 L386.9,744.9 L385.5,745.6 L384.1,746.3 L382.7,747.0 L381.3,747.7 L379.9,748.4 L378.5,749.1 L377.2,749.8 L375.8,750.5 L374.5,751.3 L373.1,752.0 L371.8,752.8 L370.4,753.5 L369.1,754.3 L367.8,755.1 L366.5,755.9 L365.2,756.7 L363.9,757.6 L362.6,758.4 L361.3,759.3 L360.0,760.1 L358.8,761.0 L357.5,761.9 L356.3,762.8 L355.0,763.8 L353.8,764.7 L352.6,765.7 L351.4,766.7 L350.2,767.7 L349.0,768.7 L347.8,769.8 L346.7,770.8 L345.5,771.9 L344.4,773.0 L343.3,774.1 L342.1,775.3 L341.0,776.4 L339.9,777.6 L338.8,778.8 L337.8,780.1 L336.7,781.3 L335.6,782.6" fill="none" stroke="#dde3e6" stroke-width="1.5"/>
</g>
<path d="M388,215 L413.25,215 A6.75,6.75 0 0 1 413.25,228.5 L388,228.5 Z" fill="#656c7b"/>
<path d="M388,240 L463.25,240 A6.75,6.75 0 0 1 463.25,253.5 L388,253.5 Z" fill="#656c7b"/>
<path d="M388,266.5 L445.85,266.5 A6.75,6.75 0 0 1 445.85,280.0 L388,280.0 Z" fill="#656c7b"/>
<path d="M388,427.5 L413.25,427.5 A6.75,6.75 0 0 1 413.25,441.0 L388,441.0 Z" fill="#656c7b"/>
<path d="M388,454 L463.25,454 A6.75,6.75 0 0 1 463.25,467.5 L388,467.5 Z" fill="#656c7b"/>
<path d="M388,480.5 L445.85,480.5 A6.75,6.75 0 0 1 445.85,494.0 L388,494.0 Z" fill="#656c7b"/>
<path d="M388,641.5 L413.25,641.5 A6.75,6.75 0 0 1 413.25,655.0 L388,655.0 Z" fill="#656c7b"/>
<path d="M388,668 L463.25,668 A6.75,6.75 0 0 1 463.25,681.5 L388,681.5 Z" fill="#656c7b"/>
<path d="M388,694.5 L445.85,694.5 A6.75,6.75 0 0 1 445.85,708.0 L388,708.0 Z" fill="#656c7b"/>
<path d="M398.3,329.6 L340.25,329.6 A6.75,6.75 0 0 0 340.25,343.1 L398.3,343.1 Z" fill="#656c7b"/>
<path d="M398.3,356.2 L324.75,356.2 A6.75,6.75 0 0 0 324.75,369.7 L398.3,369.7 Z" fill="#656c7b"/>
<path d="M398.3,381 L336.75,381 A6.75,6.75 0 0 0 336.75,394.5 L398.3,394.5 Z" fill="#656c7b"/>
<path d="M398.3,543.6 L340.25,543.6 A6.75,6.75 0 0 0 340.25,557.1 L398.3,557.1 Z" fill="#656c7b"/>
<path d="M398.3,570.2 L324.75,570.2 A6.75,6.75 0 0 0 324.75,583.7 L398.3,583.7 Z" fill="#656c7b"/>
<path d="M398.3,595 L336.75,595 A6.75,6.75 0 0 0 336.75,608.5 L398.3,608.5 Z" fill="#656c7b"/>
<g clip-path="url(#kcR)">
<path d="M388,266.5 L445.85,266.5 A6.75,6.75 0 0 1 445.85,280.0 L388,280.0 Z" fill="#3a3f52" fill-opacity="0.12"/>
<path d="M388,480.5 L445.85,480.5 A6.75,6.75 0 0 1 445.85,494.0 L388,494.0 Z" fill="#3a3f52" fill-opacity="0.12"/>
<path d="M388,694.5 L445.85,694.5 A6.75,6.75 0 0 1 445.85,708.0 L388,708.0 Z" fill="#3a3f52" fill-opacity="0.12"/>
<path d="M398.3,329.6 L340.25,329.6 A6.75,6.75 0 0 0 340.25,343.1 L398.3,343.1 Z" fill="#3a3f52" fill-opacity="0.12"/>
<path d="M398.3,543.6 L340.25,543.6 A6.75,6.75 0 0 0 340.25,557.1 L398.3,557.1 Z" fill="#3a3f52" fill-opacity="0.12"/>
<path d="M429.9,684.0 L429.4,685.7 L428.9,687.4 L428.5,689.1 L428.1,690.8 L427.7,692.6 L427.4,694.3 L427.1,696.1 L426.8,697.9 L426.6,699.7 L426.3,701.5 L426.1,703.3 L425.8,705.1 L425.5,706.9 L425.1,708.6 L424.8,710.4 L424.4,712.2 L424.0,713.9 L423.5,715.6 L422.9,717.3 L422.3,718.9 L421.6,720.5 L420.8,722.1 L420.0,723.6 L419.0,725.1 L418.0,726.6 L416.8,728.0 L415.5,729.3 L414.1,730.6 L412.6,731.8 L395,750 L500,760 L500,654 L440,654 Z" transform="translate(0,-428)" fill="#2e3346" fill-opacity="0.16"/>
<path d="M429.9,684.0 L429.4,685.7 L428.9,687.4 L428.5,689.1 L428.1,690.8 L427.7,692.6 L427.4,694.3 L427.1,696.1 L426.8,697.9 L426.6,699.7 L426.3,701.5 L426.1,703.3 L425.8,705.1 L425.5,706.9 L425.1,708.6 L424.8,710.4 L424.4,712.2 L424.0,713.9 L423.5,715.6 L422.9,717.3 L422.3,718.9 L421.6,720.5 L420.8,722.1 L420.0,723.6 L419.0,725.1 L418.0,726.6 L416.8,728.0 L415.5,729.3 L414.1,730.6 L412.6,731.8 L395,750 L500,760 L500,654 L440,654 Z" transform="translate(0,-214)" fill="#2e3346" fill-opacity="0.16"/>
<path d="M429.9,684.0 L429.4,685.7 L428.9,687.4 L428.5,689.1 L428.1,690.8 L427.7,692.6 L427.4,694.3 L427.1,696.1 L426.8,697.9 L426.6,699.7 L426.3,701.5 L426.1,703.3 L425.8,705.1 L425.5,706.9 L425.1,708.6 L424.8,710.4 L424.4,712.2 L424.0,713.9 L423.5,715.6 L422.9,717.3 L422.3,718.9 L421.6,720.5 L420.8,722.1 L420.0,723.6 L419.0,725.1 L418.0,726.6 L416.8,728.0 L415.5,729.3 L414.1,730.6 L412.6,731.8 L395,750 L500,760 L500,654 L440,654 Z" transform="translate(0,0)" fill="#2e3346" fill-opacity="0.16"/>
</g>
<line x1="388.4" y1="714.5" x2="388.4" y2="743.8" stroke="#c9d0d4" stroke-width="1.2"/>
<g clip-path="url(#cutR)"><path d="M321.1,129.0 L321.0,130.9 L321.0,132.7 L321.0,134.5 L321.1,136.2 L321.3,137.9 L321.5,139.5 L321.7,141.1 L322.1,142.7 L322.4,144.3 L322.8,145.8 L323.3,147.3 L323.8,148.7 L324.4,150.1 L325.0,151.5 L325.7,152.8 L326.4,154.2 L327.1,155.4 L327.9,156.7 L328.7,157.9 L329.6,159.1 L330.5,160.3 L331.5,161.4 L332.4,162.6 L333.5,163.6 L334.5,164.7 L335.6,165.8 L336.7,166.8 L337.8,167.8 L339.0,168.7 L340.2,169.7 L341.4,170.6 L342.7,171.5 L343.9,172.4 L345.2,173.2 L346.5,174.1 L347.9,174.9 L349.2,175.7 L350.6,176.5 L351.9,177.3 L353.3,178.0 L354.7,178.7 L356.2,179.5 L357.6,180.2 L359.0,180.8 L360.5,181.5 L361.9,182.2 L363.4,182.8 L364.9,183.5 L366.3,184.1 L367.8,184.7 L369.3,185.3 L370.7,185.9 L372.2,186.5 L373.7,187.0 L375.1,187.6 L376.6,188.2 L378.0,188.7 L379.5,189.2 L381.0,189.8 L382.4,190.3 L383.9,190.8 L385.3,191.3 L386.8,191.8 L388.3,192.3 L389.7,192.8 L391.2,193.3 L392.6,193.8 L394.1,194.3 L395.6,194.8 L397.0,195.3 L398.5,195.7 L400.0,196.2 L401.4,196.7 L402.9,197.1 L404.4,197.6 L405.8,198.0 L407.3,198.5 L408.8,199.0 L410.3,199.4 L411.7,199.9 L413.2,200.3 L414.7,200.8 L416.2,201.3 L417.7,201.7 L419.2,202.2 L420.7,202.7 L422.2,203.1 L423.7,203.6 L425.2,204.1 L426.7,204.6 L428.2,205.1 L429.7,205.7 L431.2,206.3 L432.7,206.9 L434.2,207.5 L435.7,208.1 L437.2,208.8 L438.7,209.4 L440.1,210.1 L441.6,210.8 L443.1,211.5 L444.5,212.2 L446.0,213.0 L447.4,213.8 L448.8,214.6 L450.3,215.4 L451.7,216.2 L453.1,217.1 L454.4,218.0 L455.8,218.9 L457.1,219.9 L458.5,220.9 L459.8,221.9 L461.0,223.0 L462.3,224.0 L463.5,225.1 L464.7,226.3 L465.8,227.4 L466.9,228.6 L467.9,229.9 L468.9,231.1 L469.8,232.4 L470.7,233.7 L471.5,235.0 L472.2,236.4 L472.9,237.8 L473.5,239.2 L474.0,240.7 L474.5,242.1 L474.9,243.6 L475.2,245.1 L475.4,246.7 L475.6,248.2 L475.7,249.7 L475.7,251.3 L475.6,252.8 L475.5,254.3 L475.3,255.8 L475.1,257.3 L474.8,258.8 L474.4,260.3 L474.0,261.7 L473.5,263.2 L472.9,264.6 L472.3,265.9 L471.6,267.2 L470.8,268.5 L470.1,269.8 L469.2,271.0 L468.3,272.3 L468.7,272.0 L468.3,270.2 L467.9,268.5 L467.4,266.8 L466.8,265.2 L466.2,263.6 L465.6,262.1 L465.0,260.6 L464.3,259.3 L463.5,258.0 L462.7,256.7 L461.9,255.5 L461.1,254.4 L460.2,253.3 L459.3,252.2 L458.4,251.2 L457.4,250.2 L456.4,249.3 L455.3,248.4 L454.3,247.5 L453.2,246.7 L452.1,245.9 L450.9,245.1 L449.8,244.4 L448.6,243.7 L447.3,243.0 L446.1,242.2 L444.8,241.4 L443.5,240.6 L442.2,239.9 L440.9,239.2 L439.6,238.5 L438.2,237.8 L436.8,237.2 L435.4,236.6 L434.0,236.0 L432.6,235.4 L431.2,234.8 L429.7,234.3 L428.3,233.8 L426.8,233.3 L425.3,232.8 L423.8,232.3 L422.3,231.8 L420.8,231.3 L419.3,230.9 L417.8,230.4 L416.2,230.0 L414.7,229.6 L413.2,229.2 L411.6,228.8 L410.1,228.3 L408.6,227.9 L407.0,227.5 L405.5,227.2 L404.0,226.6 L402.4,226.0 L400.9,225.4 L399.4,224.8 L397.8,224.1 L396.3,223.5 L394.8,222.9 L393.3,222.3 L391.7,221.7 L390.2,221.0 L388.7,220.4 L387.2,219.9 L385.7,219.5 L384.2,219.0 L382.7,218.6 L381.2,218.1 L379.7,217.7 L378.2,217.2 L376.7,216.8 L375.2,216.3 L373.8,215.8 L372.3,215.3 L370.8,214.8 L369.4,214.2 L367.9,213.7 L366.5,213.1 L365.1,212.5 L363.6,211.9 L362.2,211.3 L360.8,210.7 L359.4,210.0 L358.0,209.4 L356.6,208.7 L355.2,208.0 L353.9,207.3 L352.5,206.5 L351.2,205.7 L349.8,204.9 L348.5,204.1 L347.2,203.3 L345.9,202.4 L344.6,201.5 L343.3,200.6 L342.0,199.6 L340.7,198.6 L339.5,197.6 L338.3,196.6 L337.0,195.6 L335.8,194.5 L334.7,193.4 L333.5,192.3 L332.4,191.2 L331.3,190.0 L330.2,188.8 L329.1,187.7 L328.1,186.4 L327.1,185.2 L326.1,184.0 L325.1,182.7 L324.2,181.4 L323.3,180.1 L322.5,178.8 L321.6,177.5 L320.8,176.1 L320.1,174.8 L319.4,173.4 L318.7,172.0 L318.1,170.6 L317.5,169.2 L316.9,167.8 L316.4,166.3 L315.9,164.9 L315.5,163.4 L315.1,162.0 L314.8,160.5 L314.5,159.0 L314.2,157.6 L314.0,156.1 L313.9,154.6 L313.8,153.1 L313.7,151.6 L313.7,150.1 L313.7,148.6 L313.8,147.1 L313.9,145.6 L314.1,144.1 L314.3,142.6 L314.6,141.2 L314.9,139.7 L315.3,138.2 L315.7,136.8 L316.1,135.3 L316.6,133.9 L317.1,132.5 L317.7,131.1 L318.3,129.6 L319.0,128.3 L319.7,126.9 L320.4,125.5 L321.1,124.2 Z" fill="#bac3c6"/><path d="M392.8,198.0 L395.8,198.8 L398.8,199.6 L401.8,200.4 L404.8,201.2 L407.9,202.0 L410.9,202.8 L413.9,203.6 L416.9,204.5 L419.9,205.3 L422.8,206.2 L425.7,207.1 L428.6,208.1 L431.5,209.3 L434.3,210.5 L437.0,211.8 L439.7,213.1 L442.4,214.5 L445.0,215.9 L447.5,217.4 L450.0,219.0 L452.4,220.7 L454.7,222.4 L456.9,224.2 L459.1,226.2 L461.1,228.2 L463.1,230.3 L464.9,232.5 L466.7,234.9 L468.3,237.3 L469.7,239.9 L470.9,242.6 L472.0,245.5 L472.8,248.5 L473.3,251.6 L473.6,255.0" fill="none" stroke="#e4e9eb" stroke-width="1.5"/></g>
<line x1="388.3" y1="193" x2="388.3" y2="221.5" stroke="#d4dadd" stroke-width="1.1"/>
<use href="#FR" y="-214" fill="#bac3c6"/>
<path d="M317.0,561.9 L317.2,565.2 L317.7,568.4 L318.4,571.4 L319.4,574.3 L320.6,577.1 L322.0,579.7 L323.6,582.2 L325.3,584.6 L327.2,586.9 L329.2,589.1 L331.4,591.3 L333.6,593.3 L335.9,595.2 L338.3,597.1 L340.7,598.9 L343.2,600.7 L345.6,602.4 L348.2,604.0 L350.7,605.6 L353.3,607.1 L355.9,608.6 L358.6,610.0 L361.3,611.4 L364.0,612.7 L366.7,614.0 L369.5,615.3 L372.3,616.5 L375.1,617.6 L378.0,618.8 L380.9,619.9 L383.8,620.9 L386.8,622.0 L389.8,623.0 L392.8,624.0 L395.8,625.0 L398.8,626.0 L401.8,626.9 L404.8,627.9 L407.9,628.9 L410.9,629.8 L413.9,630.8 L416.9,631.8 L419.9,632.9 L422.8,633.9 L425.7,635.0 L428.6,636.1 L431.5,637.3 L434.3,638.5 L437.0,639.8 L439.7,641.1 L442.4,642.5 L445.0,643.9 L447.5,645.4 L450.0,647.0 L452.4,648.7 L454.7,650.4 L456.9,652.2 L459.1,654.2 L461.1,656.2 L463.1,658.3 L464.9,660.5 L466.7,662.9 L468.3,665.3 L469.7,667.9 L470.9,670.6 L472.0,673.5 L472.8,676.5 L473.3,679.6 L473.6,683.0" transform="translate(0,-214)" fill="none" stroke="#e4e9eb" stroke-width="1.5"/>
<use href="#FR" y="0" fill="#bac3c6"/>
<path d="M317.0,561.9 L317.2,565.2 L317.7,568.4 L318.4,571.4 L319.4,574.3 L320.6,577.1 L322.0,579.7 L323.6,582.2 L325.3,584.6 L327.2,586.9 L329.2,589.1 L331.4,591.3 L333.6,593.3 L335.9,595.2 L338.3,597.1 L340.7,598.9 L343.2,600.7 L345.6,602.4 L348.2,604.0 L350.7,605.6 L353.3,607.1 L355.9,608.6 L358.6,610.0 L361.3,611.4 L364.0,612.7 L366.7,614.0 L369.5,615.3 L372.3,616.5 L375.1,617.6 L378.0,618.8 L380.9,619.9 L383.8,620.9 L386.8,622.0 L389.8,623.0 L392.8,624.0 L395.8,625.0 L398.8,626.0 L401.8,626.9 L404.8,627.9 L407.9,628.9 L410.9,629.8 L413.9,630.8 L416.9,631.8 L419.9,632.9 L422.8,633.9 L425.7,635.0 L428.6,636.1 L431.5,637.3 L434.3,638.5 L437.0,639.8 L439.7,641.1 L442.4,642.5 L445.0,643.9 L447.5,645.4 L450.0,647.0 L452.4,648.7 L454.7,650.4 L456.9,652.2 L459.1,654.2 L461.1,656.2 L463.1,658.3 L464.9,660.5 L466.7,662.9 L468.3,665.3 L469.7,667.9 L470.9,670.6 L472.0,673.5 L472.8,676.5 L473.3,679.6 L473.6,683.0" transform="translate(0,0)" fill="none" stroke="#e4e9eb" stroke-width="1.5"/></g>
<defs><linearGradient id="bga" gradientUnits="userSpaceOnUse" x1="434.6" y1="439.5" x2="584.2" y2="106.1"><stop offset="0" stop-color="#f26a10" stop-opacity="1"/><stop offset="0.3" stop-color="#ef6812" stop-opacity="1"/><stop offset="1" stop-color="#e0641a" stop-opacity="0.02"/></linearGradient></defs><path d="M438.8,441.4 L586.9,113.2 A5.4,5.4 0 0 0 577.1,108.8 L430.4,437.6 Z" fill="url(#bga)"/>
<defs><linearGradient id="bgb" gradientUnits="userSpaceOnUse" x1="865.5" y1="548.6" x2="957.9" y2="339.6"><stop offset="0" stop-color="#f26a10" stop-opacity="1"/><stop offset="0.12" stop-color="#ef6812" stop-opacity="1"/><stop offset="1" stop-color="#e0641a" stop-opacity="0.06"/></linearGradient></defs><path d="M869.6,550.4 L960.4,345.9 A4.8,4.8 0 0 0 951.6,342.1 L861.4,546.8 Z" fill="url(#bgb)"/>
<defs><linearGradient id="bgc" gradientUnits="userSpaceOnUse" x1="763.6" y1="228.2" x2="794.7" y2="153.8"><stop offset="0" stop-color="#f26a10" stop-opacity="1"/><stop offset="0.0" stop-color="#ef6812" stop-opacity="1"/><stop offset="1" stop-color="#e0641a" stop-opacity="0.1"/></linearGradient></defs><path d="M767.6,229.9 L797.2,159.7 A4.5,4.5 0 0 0 788.8,156.3 L759.6,226.5 Z" fill="url(#bgc)"/>
<circle cx="434.6" cy="439.5" r="36.3" fill="#f9b676" fill-opacity="0.5"/><circle cx="434.6" cy="439.5" r="20.8" fill="#f9b676" fill-opacity="0.42"/><circle cx="434.6" cy="439.5" r="11.2" fill="#f8c08c" fill-opacity="0.6"/><circle cx="434.6" cy="439.5" r="10.1" fill="#f56e10"/>
<circle cx="865.5" cy="548.6" r="36.3" fill="#f9b676" fill-opacity="0.5"/><circle cx="865.5" cy="548.6" r="20.8" fill="#f9b676" fill-opacity="0.42"/><circle cx="865.5" cy="548.6" r="11.2" fill="#f8c08c" fill-opacity="0.6"/><circle cx="865.5" cy="548.6" r="10.1" fill="#f56e10"/>
<circle cx="763.6" cy="228.2" r="36.3" fill="#f9b676" fill-opacity="0.5"/><circle cx="763.6" cy="228.2" r="20.8" fill="#f9b676" fill-opacity="0.42"/><circle cx="763.6" cy="228.2" r="11.2" fill="#f8c08c" fill-opacity="0.6"/><circle cx="763.6" cy="228.2" r="10.1" fill="#f56e10"/>
<defs><linearGradient id="arg" gradientUnits="userSpaceOnUse" x1="493.6" y1="246.5" x2="536.9" y2="154.2"><stop offset="0" stop-color="#f77c1a"/><stop offset="0.55" stop-color="#f07620" stop-opacity="0.9"/><stop offset="1" stop-color="#c06030" stop-opacity="0.25"/></linearGradient></defs><line x1="536.9" y1="154.2" x2="493.6" y2="246.5" stroke="url(#arg)" stroke-width="1.9"/>
<path d="M490.9,237.4 L493.4,246.8 L502.9,243.2" fill="none" stroke="#f77c1a" stroke-width="2"/>
<path d="M452,422.3 C470,410 495,403 515,405 C535,407 552,415 564.5,426" fill="none" stroke="#f4c07c" stroke-width="2.6" stroke-dasharray="0.01 6.1" stroke-linecap="round"/>
<path d="M567.5,418.5 L568.7,429.3 L557.7,429.8" fill="none" stroke="#f4c07c" stroke-width="2"/>
<path d="M751.6,220.3 C735,205 712,195 686,195.5 C660,196 640,205 625.2,218.6" fill="none" stroke="#f4c07c" stroke-width="2.6" stroke-dasharray="0.01 6.1" stroke-linecap="round"/>
<path d="M619.8,212 L620.5,222.6 L631.5,223.4" fill="none" stroke="#f4c07c" stroke-width="2"/>
<path d="M856.6,555.2 C845,563 820,566 800,559 C775,550 762,525 744.7,512 C730,500 715,492 700.3,493.3 C688,494 675,498 667,501" fill="none" stroke="#f4c07c" stroke-width="2.6" stroke-dasharray="0.01 6.1" stroke-linecap="round"/>
<path d="M664.2,496.8 L659.5,506.2 L671.2,508.5" fill="none" stroke="#f4c07c" stroke-width="2"/>
<defs><clipPath id="eca"><circle cx="608.6" cy="250.6" r="20.6"/></clipPath></defs><circle cx="608.6" cy="250.6" r="22.200000000000003" fill="#241f2d" fill-opacity="0.55"/><circle cx="608.6" cy="250.6" r="20.6" fill="#f4c08a"/><g clip-path="url(#eca)"><path fill-rule="evenodd" d="M586.0,228.0 h45.2 v45.2 h-45.2 Z M621.6,247.0 A20.6,20.6 0 1 0 580.4,247.0 A20.6,20.6 0 1 0 621.6,247.0 Z" fill="#eeac6e"/></g><rect x="595.7" y="249.7" width="25.8" height="3.0" fill="#2c2636"/>
<defs><clipPath id="ecb"><circle cx="588" cy="450.2" r="20.6"/></clipPath></defs><circle cx="588" cy="450.2" r="22.200000000000003" fill="#241f2d" fill-opacity="0.55"/><circle cx="588" cy="450.2" r="20.6" fill="#f4c08a"/><g clip-path="url(#ecb)"><path fill-rule="evenodd" d="M565.4,427.59999999999997 h45.2 v45.2 h-45.2 Z M601.0,446.59999999999997 A20.6,20.6 0 1 0 559.8,446.59999999999997 A20.6,20.6 0 1 0 601.0,446.59999999999997 Z" fill="#eeac6e"/></g><rect x="575.1" y="449.3" width="25.8" height="3.0" fill="#2c2636"/>
<defs><clipPath id="ecc"><circle cx="633.5" cy="512.6" r="20.6"/></clipPath></defs><circle cx="633.5" cy="512.6" r="22.200000000000003" fill="#241f2d" fill-opacity="0.55"/><circle cx="633.5" cy="512.6" r="20.6" fill="#f4c08a"/><g clip-path="url(#ecc)"><path fill-rule="evenodd" d="M610.9,490.0 h45.2 v45.2 h-45.2 Z M646.5,509.0 A20.6,20.6 0 1 0 605.3,509.0 A20.6,20.6 0 1 0 646.5,509.0 Z" fill="#eeac6e"/></g><rect x="620.6" y="511.70000000000005" width="25.8" height="3.0" fill="#2c2636"/>
<path d="M408,545.5 L413,545.5 C419,545.5 422.5,551.5 422.5,559.5 L422.5,564.1 C422.5,572.1 426.5,577.1 431,577.1 C426.5,577.1 422.5,582.1 422.5,590.1 L422.5,594.7 C422.5,602.7 419,608.7 413,608.7 L408,608.7 M431,577.1 L503.8,577.1" fill="none" stroke="#dad7df" stroke-width="1.7" stroke-linejoin="round"/>
<path d="M473.3,643.1 L478.3,643.1 C484.3,643.1 487.8,649.1 487.8,657.1 L487.8,661.7 C487.8,669.7 491.8,674.7 496.3,674.7 C491.8,674.7 487.8,679.7 487.8,687.7 L487.8,692.3000000000001 C487.8,700.3000000000001 484.3,706.3000000000001 478.3,706.3000000000001 L473.3,706.3000000000001 M496.3,674.7 L510.2,674.7" fill="none" stroke="#dad7df" stroke-width="1.7" stroke-linejoin="round"/>
<g font-family="Liberation Sans, sans-serif" font-size="28" fill="#d9d6de">
<text x="525.2" y="66.3" textLength="157.28" lengthAdjust="spacing">Magnetically</text>
<text x="545.7" y="109" textLength="117.35" lengthAdjust="spacing">polarized</text>
<text x="548" y="151.7" textLength="112.69" lengthAdjust="spacing">radiation</text>
<text x="554.7" y="307" textLength="96.09" lengthAdjust="spacing">Ejected</text>
<text x="549.7" y="349.7" textLength="107.05" lengthAdjust="spacing">electron</text>
<text x="532.3" y="392.5" textLength="140.44" lengthAdjust="spacing">(ionization)</text>
<text x="516" y="585" textLength="172.69" lengthAdjust="spacing">Nucleic bases</text>
<text x="510.5" y="680.5" textLength="185.33" lengthAdjust="spacing">Twist direction</text>
<text x="498.4" y="723.3" textLength="206.08" lengthAdjust="spacing">is determined by</text>
<text x="481.2" y="764.9" textLength="245.12" lengthAdjust="spacing">the sugar backbone</text>
<text x="331.6" y="826.6" textLength="222.69" lengthAdjust="spacing">Left-handed helix</text>
<text x="712.7" y="826.4" textLength="234.88" lengthAdjust="spacing">Right-handed helix</text>
</g>
</svg></body></html>
